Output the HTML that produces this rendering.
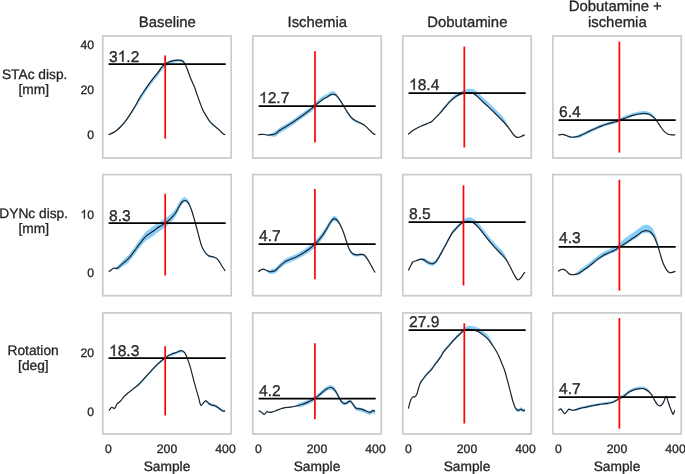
<!DOCTYPE html>
<html><head><meta charset="utf-8"><style>
html,body{margin:0;padding:0;background:#fff;width:685px;height:474px;overflow:hidden}
svg{display:block;font-family:"Liberation Sans", sans-serif;will-change:transform}
text{stroke:#262626;stroke-width:0.3px;paint-order:stroke;text-rendering:geometricPrecision}
</style></head><body>
<svg width="685" height="474" viewBox="0 0 685 474">
<rect x="102.80" y="36.00" width="128.40" height="122.00" fill="none" stroke="#cccccc" stroke-width="1.75"/>
<rect x="252.80" y="36.00" width="128.40" height="122.00" fill="none" stroke="#cccccc" stroke-width="1.75"/>
<rect x="402.80" y="36.00" width="128.40" height="122.00" fill="none" stroke="#cccccc" stroke-width="1.75"/>
<rect x="552.80" y="36.00" width="128.40" height="122.00" fill="none" stroke="#cccccc" stroke-width="1.75"/>
<rect x="102.80" y="174.60" width="128.40" height="121.10" fill="none" stroke="#cccccc" stroke-width="1.75"/>
<rect x="252.80" y="174.60" width="128.40" height="121.10" fill="none" stroke="#cccccc" stroke-width="1.75"/>
<rect x="402.80" y="174.60" width="128.40" height="121.10" fill="none" stroke="#cccccc" stroke-width="1.75"/>
<rect x="552.80" y="174.60" width="128.40" height="121.10" fill="none" stroke="#cccccc" stroke-width="1.75"/>
<rect x="102.80" y="312.90" width="128.40" height="121.10" fill="none" stroke="#cccccc" stroke-width="1.75"/>
<rect x="252.80" y="312.90" width="128.40" height="121.10" fill="none" stroke="#cccccc" stroke-width="1.75"/>
<rect x="402.80" y="312.90" width="128.40" height="121.10" fill="none" stroke="#cccccc" stroke-width="1.75"/>
<rect x="552.80" y="312.90" width="128.40" height="121.10" fill="none" stroke="#cccccc" stroke-width="1.75"/>
<path d="M108.40,134.35 L108.85,134.15 L109.47,133.89 L110.21,133.57 L111.02,133.23 L111.84,132.86 L112.61,132.49 L113.30,132.13 L114.00,131.72 L114.65,131.31 L115.27,130.88 L115.88,130.44 L116.49,129.97 L117.10,129.48 L117.63,129.03 L118.16,128.57 L118.69,128.09 L119.21,127.59 L119.74,127.08 L120.27,126.55 L120.80,126.00 L121.27,125.50 L121.75,124.98 L122.22,124.45 L122.70,123.91 L123.18,123.36 L123.65,122.79 L124.13,122.21 L124.60,121.62 L125.02,121.09 L125.43,120.54 L125.84,119.99 L126.25,119.42 L126.66,118.85 L127.07,118.27 L127.48,117.68 L127.89,117.08 L128.30,116.48 L128.71,115.86 L129.12,115.24 L129.53,114.61 L129.94,113.98 L130.35,113.33 L130.76,112.68 L131.17,112.02 L131.58,111.36 L132.00,110.69 L132.38,110.08 L132.76,109.47 L133.14,108.85 L133.52,108.23 L133.91,107.60 L134.29,106.97 L134.67,106.33 L135.05,105.68 L135.43,105.03 L135.80,104.38 L136.16,103.72 L136.52,103.05 L136.86,102.38 L137.21,101.70 L137.55,101.02 L137.90,100.33 L138.25,99.64 L138.62,98.95 L139.00,98.25 L139.40,97.55 L139.75,96.96 L140.11,96.37 L140.48,95.78 L140.86,95.18 L141.24,94.58 L141.63,93.98 L142.03,93.38 L142.42,92.78 L142.82,92.18 L143.22,91.59 L143.61,91.00 L144.00,90.41 L144.42,89.77 L144.85,89.13 L145.27,88.50 L145.70,87.86 L146.13,87.22 L146.56,86.59 L146.99,85.97 L147.42,85.35 L147.84,84.73 L148.27,84.12 L148.70,83.52 L149.13,82.92 L149.56,82.33 L149.98,81.75 L150.41,81.17 L150.84,80.60 L151.27,80.03 L151.70,79.47 L152.13,78.91 L152.55,78.36 L152.98,77.81 L153.40,77.26 L153.87,76.67 L154.34,76.09 L154.81,75.51 L155.29,74.94 L155.76,74.37 L156.22,73.81 L156.68,73.25 L157.13,72.70 L157.57,72.14 L158.00,71.59 L158.46,70.97 L158.91,70.34 L159.35,69.70 L159.78,69.07 L160.20,68.45 L160.61,67.85 L161.01,67.28 L161.41,66.74 L161.80,66.26 L162.37,65.61 L162.91,65.04 L163.43,64.53 L163.95,64.08 L164.47,63.65 L165.00,63.24 L165.63,62.78 L166.25,62.38 L166.87,62.02 L167.55,61.68 L168.30,61.34 L168.90,61.10 L169.54,60.86 L170.22,60.62 L170.91,60.40 L171.62,60.19 L172.32,60.00 L173.00,59.84 L173.80,59.68 L174.62,59.54 L175.44,59.43 L176.24,59.34 L177.00,59.28 L177.70,59.24 L178.62,59.23 L179.44,59.28 L180.19,59.39 L180.90,59.54 L181.78,59.78 L182.57,60.12 L183.30,60.64 L183.77,61.13 L184.17,61.71 L184.59,62.45 L185.10,63.46 L185.34,63.96 L185.60,64.51 L185.87,65.12 L186.15,65.76 L186.44,66.43 L186.73,67.12 L187.03,67.84 L187.32,68.57 L187.62,69.29 L187.90,70.02 L188.15,70.68 L188.40,71.36 L188.64,72.06 L188.88,72.76 L189.13,73.48 L189.37,74.20 L189.62,74.93 L189.88,75.67 L190.14,76.40 L190.42,77.13 L190.70,77.85 L190.97,78.52 L191.26,79.18 L191.56,79.85 L191.87,80.52 L192.18,81.19 L192.50,81.87 L192.82,82.54 L193.13,83.21 L193.44,83.89 L193.74,84.56 L194.03,85.24 L194.30,85.91 L194.56,86.59 L194.81,87.26 L195.06,87.94 L195.29,88.62 L195.52,89.29 L195.75,89.97 L195.97,90.65 L196.20,91.32 L196.42,92.00 L196.64,92.67 L196.87,93.34 L197.10,94.00 L197.35,94.73 L197.61,95.45 L197.86,96.17 L198.12,96.89 L198.37,97.61 L198.63,98.32 L198.88,99.02 L199.14,99.73 L199.39,100.43 L199.65,101.12 L199.90,101.80 L200.15,102.49 L200.40,103.17 L200.64,103.85 L200.88,104.52 L201.13,105.19 L201.37,105.85 L201.62,106.51 L201.88,107.16 L202.14,107.80 L202.42,108.43 L202.70,109.05 L203.03,109.72 L203.38,110.38 L203.73,111.04 L204.10,111.68 L204.47,112.32 L204.85,112.94 L205.22,113.56 L205.59,114.16 L205.95,114.75 L206.30,115.32 L206.71,116.02 L207.10,116.70 L207.48,117.36 L207.86,118.00 L208.24,118.62 L208.63,119.23 L209.05,119.84 L209.50,120.43 L209.98,121.01 L210.48,121.57 L211.00,122.12 L211.54,122.66 L212.09,123.20 L212.65,123.75 L213.22,124.30 L213.80,124.85 L214.33,125.35 L214.88,125.84 L215.44,126.32 L216.02,126.80 L216.59,127.26 L217.17,127.72 L217.73,128.18 L218.28,128.65 L218.80,129.11 L219.38,129.66 L219.95,130.25 L220.52,130.84 L221.07,131.44 L221.60,132.00 L222.10,132.52 L222.57,132.98 L223.00,133.35 L223.99,133.93 L224.77,134.14 L225.30,134.25 L225.30,135.15 L224.77,135.04 L223.99,134.83 L223.00,134.25 L222.57,133.88 L222.10,133.42 L221.60,132.90 L221.07,132.34 L220.52,131.74 L219.95,131.15 L219.38,130.56 L218.80,130.01 L218.28,129.55 L217.73,129.08 L217.17,128.62 L216.59,128.16 L216.02,127.70 L215.44,127.33 L214.88,126.96 L214.33,126.58 L213.80,126.20 L213.22,125.76 L212.65,125.33 L212.09,124.90 L211.54,124.38 L211.00,123.84 L210.48,123.29 L209.98,122.73 L209.50,122.15 L209.05,121.56 L208.63,120.95 L208.24,120.34 L207.86,119.72 L207.48,119.08 L207.10,118.42 L206.71,117.74 L206.30,117.04 L205.95,116.47 L205.59,115.88 L205.22,115.28 L204.85,114.66 L204.47,114.04 L204.10,113.40 L203.73,112.76 L203.38,112.10 L203.03,111.44 L202.70,110.77 L202.42,110.15 L202.14,109.52 L201.88,108.88 L201.62,108.23 L201.37,107.57 L201.13,106.91 L200.88,106.24 L200.64,105.57 L200.40,104.89 L200.15,104.21 L199.90,103.52 L199.65,102.84 L199.39,102.15 L199.14,101.45 L198.88,100.74 L198.63,100.04 L198.37,99.33 L198.12,98.61 L197.86,97.89 L197.61,97.17 L197.35,96.44 L197.10,95.71 L196.87,95.04 L196.64,94.37 L196.42,93.69 L196.20,93.02 L195.97,92.34 L195.75,91.66 L195.52,90.98 L195.29,90.30 L195.06,89.61 L194.81,88.93 L194.56,88.25 L194.30,87.58 L194.03,86.90 L193.74,86.22 L193.44,85.54 L193.13,84.86 L192.82,84.18 L192.50,83.50 L192.18,82.82 L191.87,82.15 L191.56,81.47 L191.26,80.80 L190.97,80.13 L190.70,79.46 L190.42,78.73 L190.14,78.00 L189.88,77.28 L189.62,76.57 L189.37,75.87 L189.13,75.17 L188.88,74.47 L188.64,73.79 L188.40,73.12 L188.15,72.47 L187.90,71.83 L187.62,71.13 L187.32,70.43 L187.03,69.74 L186.73,69.05 L186.44,68.38 L186.15,67.74 L185.87,67.13 L185.60,66.56 L185.34,66.03 L185.10,65.55 L184.59,64.59 L184.17,63.89 L183.77,63.35 L183.30,62.90 L182.57,62.43 L181.78,62.16 L180.90,61.99 L180.19,61.89 L179.44,61.85 L178.62,61.86 L177.70,61.94 L177.00,62.04 L176.24,62.16 L175.44,62.31 L174.62,62.51 L173.80,62.74 L173.00,63.00 L172.32,63.25 L171.62,63.52 L170.91,63.81 L170.22,64.12 L169.54,64.43 L168.90,64.75 L168.30,65.06 L167.55,65.49 L166.87,65.91 L166.25,66.35 L165.63,66.83 L165.00,67.36 L164.47,67.77 L163.95,68.20 L163.43,68.66 L162.91,69.17 L162.37,69.74 L161.80,70.39 L161.41,70.88 L161.01,71.42 L160.61,71.99 L160.20,72.59 L159.78,73.22 L159.35,73.85 L158.91,74.49 L158.46,75.12 L158.00,75.75 L157.57,76.30 L157.13,76.85 L156.68,77.41 L156.22,77.97 L155.76,78.54 L155.29,79.10 L154.81,79.68 L154.34,80.26 L153.87,80.85 L153.40,81.44 L152.98,81.99 L152.55,82.54 L152.13,83.09 L151.70,83.65 L151.27,84.22 L150.84,84.79 L150.41,85.36 L149.98,85.94 L149.56,86.53 L149.13,87.12 L148.70,87.72 L148.27,88.32 L147.84,88.93 L147.42,89.55 L146.99,90.17 L146.56,90.80 L146.13,91.44 L145.70,92.07 L145.27,92.71 L144.85,93.35 L144.42,93.99 L144.00,94.63 L143.61,95.22 L143.22,95.81 L142.82,96.41 L142.42,97.01 L142.03,97.61 L141.63,98.22 L141.24,98.82 L140.86,99.42 L140.48,100.02 L140.11,100.61 L139.75,101.14 L139.40,101.64 L139.00,102.23 L138.62,102.83 L138.25,103.44 L137.90,104.04 L137.55,104.63 L137.21,105.23 L136.86,105.82 L136.52,106.40 L136.16,106.98 L135.80,107.55 L135.43,108.11 L135.05,108.66 L134.67,109.21 L134.29,109.75 L133.91,110.29 L133.52,110.82 L133.14,111.34 L132.76,111.86 L132.38,112.38 L132.00,112.89 L131.58,113.54 L131.17,114.18 L130.76,114.81 L130.35,115.44 L129.94,116.06 L129.53,116.68 L129.12,117.29 L128.71,117.88 L128.30,118.47 L127.89,119.05 L127.48,119.63 L127.07,120.20 L126.66,120.76 L126.25,121.31 L125.84,121.85 L125.43,122.38 L125.02,122.90 L124.60,123.42 L124.13,123.98 L123.65,124.53 L123.18,125.07 L122.70,125.60 L122.22,126.12 L121.75,126.62 L121.27,127.11 L120.80,127.58 L120.27,128.10 L119.74,128.61 L119.21,129.09 L118.69,129.56 L118.16,130.01 L117.63,130.44 L117.10,130.86 L116.49,131.32 L115.88,131.75 L115.27,132.16 L114.65,132.56 L114.00,132.93 L113.30,133.30 L112.61,133.63 L111.84,133.96 L111.02,134.28 L110.21,134.58 L109.47,134.86 L108.85,135.09 L108.40,135.27Z" fill="#87cefa" stroke="none"/>
<path d="M258.30,134.25 L258.88,134.19 L259.73,134.09 L260.65,134.00 L261.50,133.95 L262.20,133.94 L262.86,133.94 L263.54,133.98 L264.30,134.05 L265.00,134.15 L265.75,134.30 L266.54,134.46 L267.33,134.59 L268.10,134.62 L268.84,134.40 L269.58,134.13 L270.32,133.82 L271.06,133.48 L271.80,133.12 L272.56,132.77 L273.32,132.41 L274.08,132.02 L274.84,131.55 L275.60,131.16 L276.20,130.77 L276.77,130.29 L277.34,129.75 L277.93,129.18 L278.57,128.60 L279.30,128.05 L279.84,127.69 L280.42,127.33 L281.03,126.96 L281.66,126.60 L282.31,126.23 L282.96,125.86 L283.62,125.48 L284.27,125.11 L284.90,124.73 L285.52,124.35 L286.14,123.96 L286.77,123.58 L287.39,123.19 L288.01,122.80 L288.63,122.40 L289.26,122.01 L289.88,121.61 L290.50,121.20 L291.12,120.80 L291.74,120.39 L292.37,119.98 L292.99,119.56 L293.61,119.14 L294.23,118.72 L294.86,118.30 L295.48,117.87 L296.10,117.43 L296.72,117.00 L297.34,116.55 L297.97,116.11 L298.59,115.65 L299.21,115.20 L299.83,114.75 L300.46,114.29 L301.08,113.84 L301.70,113.39 L302.33,112.94 L302.96,112.49 L303.60,112.04 L304.24,111.58 L304.87,111.13 L305.50,110.69 L306.12,110.25 L306.72,109.81 L307.30,109.39 L307.94,108.93 L308.58,108.47 L309.21,108.02 L309.82,107.58 L310.42,107.14 L310.98,106.71 L311.51,106.29 L312.00,105.87 L312.55,105.32 L313.00,104.79 L313.39,104.26 L313.79,103.75 L314.24,103.18 L314.80,102.56 L315.31,102.07 L315.89,101.57 L316.50,101.06 L317.14,100.54 L317.79,100.03 L318.43,99.60 L319.04,99.21 L319.60,98.83 L320.27,98.31 L320.88,97.79 L321.46,97.28 L322.03,96.77 L322.64,96.28 L323.30,95.81 L323.93,95.43 L324.62,95.06 L325.33,94.70 L326.05,94.35 L326.75,94.02 L327.41,93.70 L328.00,93.38 L328.72,92.95 L329.35,92.53 L329.92,92.13 L330.46,91.79 L331.00,91.53 L331.87,91.29 L332.69,91.21 L333.50,91.27 L334.33,91.52 L335.17,92.06 L336.00,92.82 L336.49,93.40 L336.97,94.07 L337.46,94.81 L337.96,95.63 L338.50,96.52 L338.92,97.22 L339.37,97.99 L339.83,98.80 L340.30,99.55 L340.76,100.25 L341.19,100.94 L341.60,101.58 L342.01,102.25 L342.37,102.85 L342.71,103.44 L343.06,104.04 L343.44,104.71 L343.90,105.49 L344.21,106.02 L344.55,106.59 L344.90,107.20 L345.27,107.82 L345.66,108.45 L346.05,109.09 L346.44,109.73 L346.83,110.36 L347.22,110.96 L347.60,111.54 L348.02,112.17 L348.44,112.80 L348.86,113.42 L349.29,114.04 L349.71,114.64 L350.14,115.21 L350.56,115.76 L350.98,116.27 L351.40,116.74 L352.01,117.35 L352.60,117.87 L353.19,118.32 L353.80,118.73 L354.43,119.13 L355.10,119.54 L355.72,119.89 L356.37,120.22 L357.04,120.54 L357.73,120.86 L358.43,121.22 L359.12,121.62 L359.80,122.03 L360.47,122.44 L361.15,122.84 L361.82,123.23 L362.49,123.59 L363.16,123.97 L363.83,124.38 L364.50,124.85 L365.02,125.26 L365.54,125.72 L366.07,126.22 L366.60,126.73 L367.12,127.26 L367.63,127.78 L368.13,128.30 L368.62,128.79 L369.10,129.25 L369.70,129.81 L370.28,130.37 L370.86,130.91 L371.41,131.43 L371.94,131.91 L372.44,132.36 L372.90,132.75 L373.65,133.32 L374.34,133.77 L374.90,134.11 L375.30,134.35 L375.30,135.25 L374.90,135.01 L374.34,134.67 L373.65,134.22 L372.90,133.65 L372.44,133.26 L371.94,132.81 L371.41,132.33 L370.86,131.81 L370.28,131.27 L369.70,130.71 L369.10,130.15 L368.62,129.69 L368.13,129.20 L367.63,128.68 L367.12,128.16 L366.60,127.63 L366.07,127.12 L365.54,126.62 L365.02,126.16 L364.50,125.75 L363.83,125.28 L363.16,124.87 L362.49,124.49 L361.82,124.20 L361.15,124.08 L360.47,123.96 L359.80,123.83 L359.12,123.71 L358.43,123.60 L357.73,123.42 L357.04,123.10 L356.37,122.78 L355.72,122.45 L355.10,122.10 L354.43,121.69 L353.80,121.29 L353.19,120.88 L352.60,120.43 L352.01,119.91 L351.40,119.30 L350.98,118.83 L350.56,118.32 L350.14,117.77 L349.71,117.20 L349.29,116.60 L348.86,115.98 L348.44,115.36 L348.02,114.73 L347.60,114.10 L347.22,113.52 L346.83,112.92 L346.44,112.29 L346.05,111.65 L345.66,111.01 L345.27,110.38 L344.90,109.75 L344.55,109.10 L344.21,108.48 L343.90,107.92 L343.44,107.09 L343.06,106.37 L342.71,105.72 L342.37,105.10 L342.01,104.45 L341.60,103.73 L341.19,103.04 L340.76,102.31 L340.30,101.55 L339.83,100.82 L339.37,100.16 L338.92,99.55 L338.50,98.99 L337.96,98.29 L337.46,97.64 L336.97,97.06 L336.49,96.56 L336.00,96.14 L335.17,95.66 L334.33,95.41 L333.50,95.29 L332.69,95.26 L331.87,95.37 L331.00,95.65 L330.46,95.93 L329.92,96.29 L329.35,96.70 L328.72,97.15 L328.00,97.61 L327.41,97.94 L326.75,98.29 L326.05,98.65 L325.33,99.03 L324.62,99.41 L323.93,99.81 L323.30,100.21 L322.64,100.71 L322.03,101.22 L321.46,101.75 L320.88,102.29 L320.27,102.83 L319.60,103.37 L319.04,103.77 L318.43,104.18 L317.79,104.66 L317.14,105.30 L316.50,105.93 L315.89,106.55 L315.31,107.15 L314.80,107.74 L314.24,108.46 L313.79,109.07 L313.39,109.58 L313.00,110.11 L312.55,110.64 L312.00,111.19 L311.51,111.61 L310.98,112.03 L310.42,112.46 L309.82,112.90 L309.21,113.34 L308.58,113.79 L307.94,114.25 L307.30,114.71 L306.72,115.13 L306.12,115.57 L305.50,116.01 L304.87,116.45 L304.24,116.90 L303.60,117.36 L302.96,117.81 L302.33,118.26 L301.70,118.71 L301.08,119.16 L300.46,119.61 L299.83,120.07 L299.21,120.52 L298.59,120.97 L297.97,121.43 L297.34,121.87 L296.72,122.32 L296.10,122.75 L295.48,123.19 L294.86,123.62 L294.23,124.04 L293.61,124.46 L292.99,124.88 L292.37,125.30 L291.74,125.71 L291.12,126.12 L290.50,126.52 L289.88,126.93 L289.26,127.33 L288.63,127.72 L288.01,128.12 L287.39,128.51 L286.77,128.90 L286.14,129.28 L285.52,129.67 L284.90,130.05 L284.27,130.43 L283.62,130.80 L282.96,131.18 L282.31,131.55 L281.66,131.92 L281.03,132.28 L280.42,132.65 L279.84,133.01 L279.30,133.37 L278.57,133.92 L277.93,134.50 L277.34,135.07 L276.77,135.61 L276.20,136.09 L275.60,136.48 L274.84,136.77 L274.08,136.75 L273.32,136.66 L272.56,136.53 L271.80,136.41 L271.06,136.30 L270.32,136.17 L269.58,136.01 L268.84,135.82 L268.10,135.58 L267.33,135.49 L266.54,135.36 L265.75,135.20 L265.00,135.05 L264.30,134.95 L263.54,134.88 L262.86,134.84 L262.20,134.84 L261.50,134.85 L260.65,134.90 L259.73,134.99 L258.88,135.09 L258.30,135.15Z" fill="#87cefa" stroke="none"/>
<path d="M408.20,133.95 L408.57,133.62 L409.06,133.16 L409.65,132.62 L410.30,132.03 L411.00,131.42 L411.71,130.84 L412.40,130.32 L413.01,129.90 L413.65,129.50 L414.31,129.10 L414.99,128.71 L415.67,128.33 L416.36,127.96 L417.03,127.61 L417.70,127.26 L418.36,126.93 L419.03,126.62 L419.70,126.32 L420.37,126.02 L421.03,125.74 L421.67,125.47 L422.30,125.20 L422.90,124.94 L423.66,124.62 L424.37,124.31 L425.06,124.02 L425.73,123.74 L426.41,123.45 L427.10,123.14 L427.82,122.84 L428.57,122.54 L429.32,122.24 L430.05,121.93 L430.75,121.58 L431.40,121.20 L431.97,120.78 L432.48,120.34 L432.96,119.88 L433.43,119.38 L433.93,118.85 L434.50,118.27 L434.97,117.82 L435.47,117.34 L435.99,116.83 L436.52,116.20 L437.07,115.54 L437.62,114.87 L438.16,114.18 L438.70,113.49 L439.17,112.86 L439.65,112.22 L440.13,111.57 L440.61,110.91 L441.09,110.24 L441.57,109.56 L442.05,108.90 L442.53,108.32 L443.00,107.74 L443.47,107.17 L443.94,106.59 L444.41,106.01 L444.87,105.42 L445.34,104.84 L445.80,104.26 L446.27,103.69 L446.73,103.13 L447.20,102.58 L447.72,101.97 L448.25,101.36 L448.77,100.76 L449.30,100.17 L449.82,99.59 L450.35,99.03 L450.88,98.48 L451.40,97.95 L452.00,97.37 L452.60,96.81 L453.20,96.27 L453.80,95.75 L454.40,95.25 L455.00,94.78 L455.60,94.34 L456.30,93.86 L456.99,93.42 L457.68,93.02 L458.38,92.64 L459.08,92.29 L459.80,91.96 L460.53,91.66 L461.28,91.37 L462.03,91.11 L462.79,90.75 L463.55,90.41 L464.30,90.10 L465.05,89.80 L465.80,89.52 L466.54,89.27 L467.29,89.04 L468.04,88.86 L468.80,88.81 L469.56,88.79 L470.33,88.78 L471.09,88.81 L471.86,88.90 L472.63,89.06 L473.40,89.34 L473.98,89.62 L474.55,89.98 L475.13,90.39 L475.71,90.84 L476.28,91.32 L476.86,91.82 L477.43,92.31 L478.00,92.79 L478.56,93.27 L479.10,93.75 L479.64,94.24 L480.18,94.76 L480.73,95.30 L481.29,95.86 L481.88,96.43 L482.50,97.02 L483.02,97.49 L483.56,97.98 L484.12,98.48 L484.69,98.99 L485.27,99.50 L485.86,100.02 L486.45,100.55 L487.04,101.08 L487.62,101.61 L488.20,102.15 L488.72,102.64 L489.24,103.13 L489.75,103.63 L490.27,104.14 L490.79,104.65 L491.31,105.16 L491.83,105.68 L492.35,106.19 L492.86,106.71 L493.38,107.22 L493.90,107.74 L494.42,108.26 L494.94,108.77 L495.45,109.29 L495.97,109.81 L496.49,110.33 L497.01,110.85 L497.53,111.38 L498.05,111.90 L498.56,112.42 L499.08,112.95 L499.60,113.47 L500.12,114.00 L500.65,114.52 L501.19,115.05 L501.72,115.58 L502.26,116.10 L502.79,116.63 L503.32,117.34 L503.83,118.15 L504.34,118.96 L504.83,119.76 L505.30,120.55 L505.80,121.41 L506.28,122.26 L506.75,123.10 L507.21,123.93 L507.66,124.75 L508.09,125.57 L508.52,126.39 L508.95,127.20 L509.38,127.87 L509.80,128.53 L510.27,129.28 L510.73,130.04 L511.19,130.82 L511.64,131.59 L512.09,132.32 L512.53,132.95 L512.96,133.54 L513.38,134.08 L513.80,134.55 L514.52,135.26 L515.20,135.84 L515.86,136.29 L516.52,136.63 L517.20,136.85 L517.89,136.94 L518.57,136.89 L519.27,136.73 L519.97,136.51 L520.70,136.25 L521.37,135.97 L522.11,135.61 L522.87,135.21 L523.57,134.82 L524.17,134.48 L524.60,134.25 L524.60,135.15 L524.17,135.38 L523.57,135.72 L522.87,136.11 L522.11,136.51 L521.37,136.87 L520.70,137.15 L519.97,137.41 L519.27,137.63 L518.57,137.79 L517.89,137.84 L517.20,137.75 L516.52,137.53 L515.86,137.19 L515.20,136.74 L514.52,136.16 L513.80,135.45 L513.38,134.98 L512.96,134.44 L512.53,133.85 L512.09,133.22 L511.64,132.56 L511.19,131.89 L510.73,131.21 L510.27,130.55 L509.80,129.91 L509.38,129.34 L508.95,128.77 L508.52,128.21 L508.09,127.65 L507.66,127.09 L507.21,126.53 L506.75,125.96 L506.28,125.40 L505.80,124.84 L505.30,124.28 L504.83,123.77 L504.34,123.25 L503.83,122.74 L503.32,122.23 L502.79,121.71 L502.26,121.18 L501.72,120.66 L501.19,120.13 L500.65,119.60 L500.12,119.08 L499.60,118.55 L499.08,118.03 L498.56,117.50 L498.05,116.98 L497.53,116.46 L497.01,115.93 L496.49,115.41 L495.97,114.89 L495.45,114.37 L494.94,113.85 L494.42,113.34 L493.90,112.82 L493.38,112.30 L492.86,111.79 L492.35,111.27 L491.83,110.76 L491.31,110.24 L490.79,109.73 L490.27,109.22 L489.75,108.71 L489.24,108.21 L488.72,107.72 L488.20,107.23 L487.62,106.69 L487.04,106.16 L486.45,105.63 L485.86,105.10 L485.27,104.58 L484.69,104.07 L484.12,103.56 L483.56,103.06 L483.02,102.57 L482.50,102.09 L481.88,101.51 L481.29,100.94 L480.73,100.38 L480.18,99.84 L479.64,99.30 L479.10,98.78 L478.56,98.26 L478.00,97.75 L477.43,97.24 L476.86,96.71 L476.28,96.18 L475.71,95.66 L475.13,95.18 L474.55,94.73 L473.98,94.34 L473.40,94.02 L472.63,93.70 L471.86,93.49 L471.09,93.36 L470.33,93.28 L469.56,93.24 L468.80,93.22 L468.04,93.22 L467.29,93.32 L466.54,93.45 L465.80,93.62 L465.05,93.81 L464.30,94.02 L463.55,94.24 L462.79,94.48 L462.03,94.75 L461.28,94.99 L460.53,95.24 L459.80,95.53 L459.08,95.83 L458.38,96.15 L457.68,96.50 L456.99,96.88 L456.30,97.30 L455.60,97.75 L455.00,98.17 L454.40,98.62 L453.80,99.09 L453.20,99.59 L452.60,100.11 L452.00,100.65 L451.40,101.21 L450.88,101.72 L450.35,102.25 L449.82,102.79 L449.30,103.35 L448.77,103.93 L448.25,104.51 L447.72,105.10 L447.20,105.69 L446.73,106.22 L446.27,106.77 L445.80,107.32 L445.34,107.88 L444.87,108.45 L444.41,109.01 L443.94,109.58 L443.47,110.14 L443.00,110.70 L442.53,111.26 L442.05,111.82 L441.57,112.34 L441.09,112.85 L440.61,113.35 L440.13,113.85 L439.65,114.34 L439.17,114.82 L438.70,115.29 L438.16,115.80 L437.62,116.30 L437.07,116.78 L436.52,117.26 L435.99,117.73 L435.47,118.24 L434.97,118.72 L434.50,119.17 L433.93,119.75 L433.43,120.28 L432.96,120.78 L432.48,121.24 L431.97,121.68 L431.40,122.10 L430.75,122.48 L430.05,122.83 L429.32,123.14 L428.57,123.44 L427.82,123.74 L427.10,124.04 L426.41,124.35 L425.73,124.64 L425.06,124.92 L424.37,125.21 L423.66,125.52 L422.90,125.84 L422.30,126.10 L421.67,126.37 L421.03,126.64 L420.37,126.92 L419.70,127.22 L419.03,127.52 L418.36,127.83 L417.70,128.16 L417.03,128.51 L416.36,128.86 L415.67,129.23 L414.99,129.61 L414.31,130.00 L413.65,130.40 L413.01,130.80 L412.40,131.22 L411.71,131.74 L411.00,132.32 L410.30,132.93 L409.65,133.52 L409.06,134.06 L408.57,134.52 L408.20,134.85Z" fill="#87cefa" stroke="none"/>
<path d="M558.30,134.55 L558.76,134.47 L559.41,134.33 L560.17,134.18 L560.98,134.05 L561.78,133.96 L562.50,133.95 L563.27,134.06 L564.01,134.25 L564.74,134.51 L565.46,134.78 L566.20,135.05 L566.96,135.33 L567.72,135.64 L568.48,135.95 L569.24,136.24 L570.00,136.45 L570.73,136.60 L571.44,136.71 L572.15,136.75 L572.90,136.64 L573.70,136.47 L574.43,136.28 L575.20,136.05 L575.99,135.78 L576.80,135.47 L577.61,135.14 L578.40,134.84 L579.06,134.60 L579.72,134.33 L580.37,134.03 L581.03,133.72 L581.68,133.39 L582.34,133.07 L583.00,132.75 L583.67,132.44 L584.34,132.13 L585.01,131.81 L585.68,131.50 L586.35,131.18 L587.03,130.86 L587.70,130.53 L588.37,130.21 L589.04,129.89 L589.71,129.56 L590.39,129.23 L591.06,128.91 L591.73,128.59 L592.40,128.27 L593.07,127.95 L593.75,127.64 L594.42,127.33 L595.09,127.02 L595.76,126.72 L596.43,126.42 L597.10,126.13 L597.76,125.85 L598.42,125.57 L599.07,125.29 L599.73,125.02 L600.38,124.75 L601.04,124.49 L601.70,124.24 L602.37,123.99 L603.04,123.75 L603.71,123.52 L604.38,123.29 L605.05,123.06 L605.73,122.84 L606.40,122.63 L607.18,122.39 L607.97,122.15 L608.76,121.92 L609.54,121.70 L610.32,121.48 L611.10,121.26 L611.88,121.05 L612.67,120.84 L613.46,120.63 L614.23,120.43 L614.98,120.22 L615.70,120.00 L616.50,119.69 L617.25,119.35 L617.98,119.01 L618.71,118.66 L619.50,118.28 L620.19,117.95 L620.90,117.60 L621.62,117.24 L622.37,116.91 L623.12,116.61 L623.90,116.31 L624.58,116.05 L625.28,115.77 L626.00,115.49 L626.73,115.21 L627.45,114.93 L628.18,114.65 L628.90,114.39 L629.62,114.14 L630.33,113.89 L631.05,113.64 L631.76,113.40 L632.48,113.17 L633.19,112.96 L633.90,112.76 L634.60,112.57 L635.30,112.40 L636.00,112.24 L636.70,112.09 L637.40,111.96 L638.10,111.83 L638.80,111.71 L639.52,111.59 L640.25,111.47 L640.99,111.36 L641.72,111.26 L642.44,111.18 L643.14,111.12 L643.80,111.10 L644.67,111.11 L645.50,111.17 L646.29,111.27 L647.05,111.42 L647.80,111.60 L648.52,111.81 L649.20,112.06 L649.86,112.34 L650.52,112.69 L651.20,113.10 L651.78,113.50 L652.38,114.07 L652.98,114.75 L653.57,115.46 L654.14,116.20 L654.70,116.94 L655.15,117.58 L655.59,118.25 L656.02,118.92 L656.44,119.62 L656.86,120.32 L657.28,121.04 L657.70,121.77 L658.13,122.47 L658.56,123.11 L658.99,123.76 L659.41,124.42 L659.84,125.08 L660.27,125.73 L660.70,126.35 L661.12,126.95 L661.53,127.55 L661.94,128.14 L662.35,128.72 L662.78,129.28 L663.22,129.82 L663.70,130.35 L664.21,130.87 L664.75,131.39 L665.30,131.90 L665.87,132.39 L666.45,132.83 L667.03,133.23 L667.60,133.55 L668.40,133.88 L669.21,134.08 L670.02,134.20 L670.82,134.28 L671.60,134.35 L672.40,134.40 L673.24,134.41 L674.04,134.39 L674.72,134.36 L675.20,134.35 L675.20,135.25 L674.72,135.26 L674.04,135.29 L673.24,135.31 L672.40,135.30 L671.60,135.25 L670.82,135.18 L670.02,135.10 L669.21,134.98 L668.40,134.78 L667.60,134.45 L667.03,134.13 L666.45,133.73 L665.87,133.29 L665.30,132.80 L664.75,132.29 L664.21,131.77 L663.70,131.25 L663.22,130.72 L662.78,130.18 L662.35,129.62 L661.94,129.04 L661.53,128.45 L661.12,127.85 L660.70,127.25 L660.27,126.63 L659.84,125.98 L659.41,125.32 L658.99,124.66 L658.56,124.01 L658.13,123.37 L657.70,122.78 L657.28,122.22 L656.86,121.68 L656.44,121.15 L656.02,120.63 L655.59,120.14 L655.15,119.66 L654.70,119.20 L654.14,118.69 L653.57,118.21 L652.98,117.74 L652.38,117.31 L651.78,116.90 L651.20,116.50 L650.52,116.09 L649.86,115.74 L649.20,115.46 L648.52,115.21 L647.80,115.00 L647.05,114.82 L646.29,114.67 L645.50,114.57 L644.67,114.51 L643.80,114.50 L643.14,114.52 L642.44,114.58 L641.72,114.66 L640.99,114.76 L640.25,114.87 L639.52,114.99 L638.80,115.11 L638.10,115.23 L637.40,115.36 L636.70,115.49 L636.00,115.64 L635.30,115.80 L634.60,115.97 L633.90,116.16 L633.19,116.36 L632.48,116.57 L631.76,116.80 L631.05,117.04 L630.33,117.29 L629.62,117.54 L628.90,117.79 L628.18,118.05 L627.45,118.33 L626.73,118.61 L626.00,118.89 L625.28,119.17 L624.58,119.45 L623.90,119.71 L623.12,120.01 L622.37,120.31 L621.62,120.64 L620.90,120.98 L620.19,121.31 L619.50,121.63 L618.71,121.99 L617.98,122.33 L617.25,122.66 L616.50,122.98 L615.70,123.28 L614.98,123.50 L614.23,123.71 L613.46,123.91 L612.67,124.12 L611.88,124.33 L611.10,124.54 L610.32,124.76 L609.54,124.98 L608.76,125.20 L607.97,125.43 L607.18,125.67 L606.40,125.91 L605.73,126.12 L605.05,126.34 L604.38,126.57 L603.71,126.80 L603.04,127.03 L602.37,127.27 L601.70,127.52 L601.04,127.77 L600.38,128.03 L599.73,128.30 L599.07,128.57 L598.42,128.85 L597.76,129.13 L597.10,129.41 L596.43,129.70 L595.76,130.00 L595.09,130.30 L594.42,130.61 L593.75,130.92 L593.07,131.23 L592.40,131.55 L591.73,131.87 L591.06,132.19 L590.39,132.51 L589.71,132.84 L589.04,133.17 L588.37,133.49 L587.70,133.81 L587.03,134.14 L586.35,134.46 L585.68,134.78 L585.01,135.09 L584.34,135.41 L583.67,135.72 L583.00,136.03 L582.34,136.35 L581.68,136.67 L581.03,137.00 L580.37,137.31 L579.72,137.61 L579.06,137.88 L578.40,138.12 L577.61,138.26 L576.80,138.27 L575.99,138.26 L575.20,138.21 L574.43,138.13 L573.70,138.03 L572.90,137.88 L572.15,137.70 L571.44,137.61 L570.73,137.50 L570.00,137.35 L569.24,137.14 L568.48,136.85 L567.72,136.54 L566.96,136.23 L566.20,135.95 L565.46,135.68 L564.74,135.41 L564.01,135.15 L563.27,134.96 L562.50,134.85 L561.78,134.86 L560.98,134.95 L560.17,135.08 L559.41,135.23 L558.76,135.37 L558.30,135.45Z" fill="#87cefa" stroke="none"/>
<path d="M108.70,271.15 L109.13,270.86 L109.76,270.46 L110.45,269.99 L111.10,269.55 L111.66,269.09 L112.19,268.60 L112.76,268.16 L113.40,267.85 L114.18,267.71 L115.05,267.45 L115.92,267.20 L116.70,266.86 L117.49,266.28 L118.16,265.59 L119.00,264.60 L119.46,264.14 L119.95,263.60 L120.48,263.02 L121.04,262.39 L121.61,261.75 L122.20,261.10 L122.80,260.47 L123.34,259.92 L123.91,259.36 L124.50,258.80 L125.10,258.23 L125.70,257.66 L126.29,257.11 L126.86,256.60 L127.40,256.07 L127.91,255.54 L128.41,255.00 L128.89,254.45 L129.36,253.89 L129.82,253.33 L130.28,252.75 L130.74,252.17 L131.20,251.58 L131.67,250.97 L132.13,250.36 L132.59,249.73 L133.06,249.09 L133.52,248.45 L133.98,247.80 L134.44,247.15 L134.90,246.50 L135.31,245.92 L135.72,245.32 L136.13,244.72 L136.54,244.12 L136.95,243.52 L137.36,242.92 L137.77,242.32 L138.18,241.73 L138.60,241.14 L139.07,240.49 L139.55,239.83 L140.02,239.18 L140.50,238.52 L140.98,237.87 L141.45,237.23 L141.93,236.60 L142.40,235.99 L142.93,235.31 L143.44,234.64 L143.94,233.99 L144.45,233.35 L144.97,232.73 L145.52,232.13 L146.10,231.55 L146.65,231.05 L147.23,230.57 L147.83,230.10 L148.45,229.65 L149.07,229.20 L149.67,228.77 L150.25,228.36 L150.80,227.95 L151.48,227.43 L152.14,226.96 L152.77,226.55 L153.37,226.15 L153.95,225.76 L154.50,225.37 L155.10,224.91 L155.64,224.47 L156.15,224.03 L156.69,223.60 L157.30,223.16 L157.88,222.80 L158.50,222.43 L159.14,222.06 L159.80,221.69 L160.46,221.31 L161.10,220.93 L161.72,220.55 L162.34,220.17 L162.95,219.79 L163.56,219.40 L164.18,219.00 L164.80,218.59 L165.43,218.19 L166.06,217.79 L166.70,217.39 L167.34,216.97 L167.97,216.52 L168.60,216.04 L169.13,215.60 L169.66,215.14 L170.19,214.67 L170.72,214.17 L171.25,213.66 L171.77,213.12 L172.30,212.57 L172.76,212.07 L173.22,211.58 L173.68,211.07 L174.14,210.55 L174.61,210.00 L175.07,209.41 L175.53,208.78 L176.00,208.11 L176.35,207.57 L176.70,206.97 L177.06,206.34 L177.42,205.68 L177.78,205.00 L178.13,204.32 L178.49,203.67 L178.83,203.04 L179.17,202.44 L179.49,201.89 L179.80,201.41 L180.33,200.62 L180.83,199.93 L181.29,199.33 L181.74,198.82 L182.17,198.37 L182.60,197.99 L183.40,197.46 L184.14,197.22 L184.90,197.23 L185.70,197.57 L186.50,198.18 L187.30,199.04 L187.77,199.67 L188.23,200.39 L188.68,201.20 L189.14,202.11 L189.60,203.14 L189.85,203.75 L190.10,204.39 L190.35,205.05 L190.59,205.75 L190.84,206.49 L191.10,207.25 L191.36,208.05 L191.62,208.89 L191.90,209.77 L192.10,210.43 L192.31,211.12 L192.53,211.85 L192.75,212.61 L192.97,213.39 L193.20,214.18 L193.43,214.98 L193.65,215.79 L193.87,216.59 L194.09,217.38 L194.30,218.15 L194.51,218.89 L194.70,219.61 L194.92,220.42 L195.12,221.20 L195.32,221.95 L195.50,222.69 L195.68,223.42 L195.86,224.15 L196.04,224.87 L196.22,225.56 L196.41,226.28 L196.60,227.01 L196.80,227.76 L196.97,228.42 L197.15,229.09 L197.33,229.77 L197.52,230.47 L197.70,231.17 L197.89,231.87 L198.08,232.58 L198.26,233.29 L198.45,234.00 L198.64,234.70 L198.83,235.40 L199.01,236.08 L199.20,236.76 L199.40,237.49 L199.59,238.22 L199.78,238.96 L199.97,239.69 L200.15,240.42 L200.34,241.14 L200.54,241.85 L200.73,242.55 L200.94,243.24 L201.15,243.90 L201.37,244.54 L201.60,245.16 L201.92,245.95 L202.27,246.72 L202.62,247.45 L202.98,248.16 L203.36,248.84 L203.74,249.49 L204.12,250.11 L204.51,250.70 L204.90,251.26 L205.41,251.94 L205.93,252.57 L206.46,253.16 L206.99,253.70 L207.53,254.18 L208.07,254.60 L208.60,254.96 L209.34,255.31 L210.08,255.50 L210.82,255.66 L211.56,255.81 L212.30,256.03 L213.05,256.31 L213.82,256.60 L214.58,256.87 L215.32,257.17 L216.00,257.55 L216.62,257.99 L217.18,258.48 L217.72,259.03 L218.25,259.65 L218.80,260.35 L219.19,260.91 L219.57,261.53 L219.95,262.19 L220.34,262.88 L220.73,263.59 L221.15,264.32 L221.60,265.05 L221.99,265.66 L222.43,266.32 L222.90,267.03 L223.39,267.74 L223.86,268.44 L224.31,269.09 L224.71,269.68 L225.05,270.18 L225.30,270.55 L225.30,271.45 L225.05,271.08 L224.71,270.58 L224.31,269.99 L223.86,269.34 L223.39,268.64 L222.90,267.93 L222.43,267.22 L221.99,266.56 L221.60,265.95 L221.15,265.22 L220.73,264.49 L220.34,263.78 L219.95,263.09 L219.57,262.43 L219.19,261.81 L218.80,261.25 L218.25,260.55 L217.72,259.93 L217.18,259.38 L216.62,258.89 L216.00,258.45 L215.32,258.07 L214.58,257.77 L213.82,257.54 L213.05,257.48 L212.30,257.42 L211.56,257.42 L210.82,257.49 L210.08,257.56 L209.34,257.39 L208.60,257.04 L208.07,256.68 L207.53,256.26 L206.99,255.78 L206.46,255.24 L205.93,254.65 L205.41,254.02 L204.90,253.34 L204.51,252.78 L204.12,252.19 L203.74,251.57 L203.36,250.92 L202.98,250.24 L202.62,249.53 L202.27,248.80 L201.92,248.03 L201.60,247.24 L201.37,246.62 L201.15,245.98 L200.94,245.32 L200.73,244.63 L200.54,243.93 L200.34,243.22 L200.15,242.50 L199.97,241.77 L199.78,241.04 L199.59,240.30 L199.40,239.57 L199.20,238.84 L199.01,238.16 L198.83,237.48 L198.64,236.78 L198.45,236.08 L198.26,235.37 L198.08,234.66 L197.89,233.95 L197.70,233.25 L197.52,232.55 L197.33,231.85 L197.15,231.17 L196.97,230.50 L196.80,229.84 L196.60,229.09 L196.41,228.36 L196.22,227.64 L196.04,226.95 L195.86,226.25 L195.68,225.55 L195.50,224.85 L195.32,224.13 L195.12,223.40 L194.92,222.65 L194.70,221.88 L194.51,221.19 L194.30,220.47 L194.09,219.73 L193.87,218.97 L193.65,218.21 L193.43,217.43 L193.20,216.66 L192.97,215.90 L192.75,215.16 L192.53,214.43 L192.31,213.73 L192.10,213.07 L191.90,212.44 L191.62,211.60 L191.36,210.80 L191.10,210.04 L190.84,209.34 L190.59,208.70 L190.35,208.09 L190.10,207.51 L189.85,206.96 L189.60,206.44 L189.14,205.58 L188.68,204.83 L188.23,204.19 L187.77,203.63 L187.30,203.17 L186.50,202.60 L185.70,202.28 L184.90,202.23 L184.14,202.49 L183.40,203.00 L182.60,203.82 L182.17,204.35 L181.74,204.95 L181.29,205.63 L180.83,206.40 L180.33,207.26 L179.80,208.24 L179.49,208.84 L179.17,209.50 L178.83,210.22 L178.49,210.98 L178.13,211.76 L177.78,212.50 L177.42,213.22 L177.06,213.92 L176.70,214.60 L176.35,215.23 L176.00,215.81 L175.53,216.54 L175.07,217.22 L174.61,217.85 L174.14,218.45 L173.68,219.03 L173.22,219.59 L172.76,220.13 L172.30,220.68 L171.77,221.29 L171.25,221.89 L170.72,222.46 L170.19,223.01 L169.66,223.54 L169.13,224.06 L168.60,224.56 L167.97,225.11 L167.34,225.63 L166.70,226.12 L166.06,226.60 L165.43,227.06 L164.80,227.52 L164.18,227.98 L163.56,228.43 L162.95,228.86 L162.34,229.29 L161.72,229.72 L161.10,230.14 L160.46,230.57 L159.80,230.99 L159.14,231.41 L158.50,231.83 L157.88,232.24 L157.30,232.65 L156.69,233.14 L156.15,233.61 L155.64,234.08 L155.10,234.56 L154.50,235.06 L153.95,235.49 L153.37,235.93 L152.77,236.37 L152.14,236.83 L151.48,237.24 L150.80,237.66 L150.25,237.99 L149.67,238.33 L149.07,238.67 L148.45,239.03 L147.83,239.40 L147.23,239.78 L146.65,240.18 L146.10,240.60 L145.52,241.10 L144.97,241.63 L144.45,242.18 L143.94,242.74 L143.44,243.32 L142.93,243.92 L142.40,244.52 L141.93,245.07 L141.45,245.63 L140.98,246.21 L140.50,246.79 L140.02,247.38 L139.55,247.99 L139.07,248.61 L138.60,249.22 L138.18,249.77 L137.77,250.33 L137.36,250.89 L136.95,251.46 L136.54,252.03 L136.13,252.59 L135.72,253.16 L135.31,253.71 L134.90,254.26 L134.44,254.88 L133.98,255.49 L133.52,256.09 L133.06,256.70 L132.59,257.29 L132.13,257.88 L131.67,258.46 L131.20,259.02 L130.74,259.58 L130.28,260.12 L129.82,260.65 L129.36,261.18 L128.89,261.70 L128.41,262.20 L127.91,262.70 L127.40,263.19 L126.86,263.67 L126.29,264.14 L125.70,264.55 L125.10,264.92 L124.50,265.29 L123.91,265.65 L123.34,266.01 L122.80,266.37 L122.20,266.80 L121.61,267.24 L121.04,267.69 L120.48,268.12 L119.95,268.53 L119.46,268.89 L119.00,269.20 L118.16,269.56 L117.49,269.75 L116.70,269.74 L115.92,269.51 L115.05,269.11 L114.18,268.72 L113.40,268.75 L112.76,269.06 L112.19,269.50 L111.66,269.99 L111.10,270.45 L110.45,270.89 L109.76,271.36 L109.13,271.76 L108.70,272.05Z" fill="#87cefa" stroke="none"/>
<path d="M258.30,271.25 L258.70,270.95 L259.27,270.51 L259.94,270.04 L260.60,269.65 L261.26,269.33 L261.97,269.03 L262.69,268.82 L263.40,268.75 L264.10,268.88 L264.80,269.16 L265.50,269.51 L266.20,269.79 L266.88,269.92 L267.54,270.11 L268.23,270.24 L269.00,270.21 L269.71,270.02 L270.50,269.73 L271.30,269.36 L272.09,269.00 L272.80,268.85 L273.55,268.68 L274.21,268.49 L274.86,268.20 L275.60,267.71 L276.08,267.32 L276.59,266.83 L277.12,266.29 L277.67,265.71 L278.22,265.12 L278.76,264.55 L279.30,264.02 L279.83,263.52 L280.35,263.03 L280.88,262.55 L281.41,262.07 L281.94,261.60 L282.47,261.15 L283.00,260.72 L283.61,260.23 L284.19,259.77 L284.78,259.33 L285.40,258.90 L286.06,258.48 L286.80,258.06 L287.41,257.76 L288.07,257.46 L288.77,257.18 L289.49,256.89 L290.22,256.61 L290.96,256.32 L291.69,256.03 L292.40,255.72 L293.10,255.41 L293.80,255.10 L294.50,254.78 L295.20,254.46 L295.90,254.13 L296.60,253.79 L297.30,253.44 L298.00,253.08 L298.62,252.74 L299.24,252.40 L299.87,252.05 L300.49,251.68 L301.11,251.31 L301.73,250.92 L302.36,250.53 L302.98,250.13 L303.60,249.72 L304.23,249.31 L304.86,248.88 L305.49,248.45 L306.12,248.01 L306.75,247.56 L307.38,247.11 L308.00,246.66 L308.60,246.20 L309.20,245.74 L309.79,245.27 L310.37,244.80 L310.94,244.33 L311.51,243.85 L312.07,243.37 L312.62,242.89 L313.16,242.41 L313.69,241.92 L314.20,241.44 L314.76,240.90 L315.30,240.36 L315.82,239.82 L316.33,239.28 L316.82,238.74 L317.32,238.18 L317.81,237.62 L318.30,237.07 L318.79,236.53 L319.27,235.99 L319.75,235.44 L320.22,234.88 L320.69,234.31 L321.16,233.72 L321.63,233.12 L322.10,232.50 L322.52,231.92 L322.94,231.34 L323.37,230.74 L323.79,230.12 L324.21,229.50 L324.63,228.86 L325.06,228.22 L325.48,227.56 L325.90,226.90 L326.28,226.28 L326.67,225.63 L327.06,224.96 L327.45,224.27 L327.84,223.59 L328.22,222.91 L328.60,222.25 L328.98,221.62 L329.34,221.02 L329.70,220.47 L330.20,219.74 L330.70,219.05 L331.18,218.40 L331.65,217.81 L332.10,217.28 L332.52,216.84 L332.90,216.48 L333.89,215.94 L334.80,216.11 L335.37,216.30 L335.97,216.59 L336.61,217.06 L337.30,217.85 L337.67,218.40 L338.05,219.03 L338.45,219.72 L338.86,220.46 L339.27,221.26 L339.68,222.10 L340.10,222.97 L340.50,223.87 L340.79,224.54 L341.08,225.24 L341.38,225.96 L341.67,226.70 L341.96,227.47 L342.25,228.19 L342.54,228.91 L342.83,229.66 L343.12,230.41 L343.41,231.18 L343.70,231.97 L343.93,232.60 L344.15,233.27 L344.38,233.95 L344.61,234.65 L344.84,235.37 L345.06,236.09 L345.29,236.82 L345.51,237.54 L345.73,238.26 L345.95,238.97 L346.17,239.66 L346.38,240.33 L346.59,240.98 L346.80,241.59 L347.08,242.42 L347.34,243.22 L347.60,244.00 L347.85,244.76 L348.10,245.48 L348.35,246.18 L348.60,246.84 L348.86,247.47 L349.12,248.07 L349.40,248.64 L349.81,249.39 L350.23,250.08 L350.66,250.71 L351.10,251.27 L351.55,251.78 L352.02,252.24 L352.50,252.64 L353.20,253.10 L353.94,253.44 L354.70,253.68 L355.48,253.84 L356.30,253.94 L357.03,253.95 L357.80,253.87 L358.59,253.74 L359.38,253.60 L360.12,253.49 L360.80,253.44 L361.69,253.44 L362.47,253.48 L363.19,253.62 L363.90,253.94 L364.43,254.31 L364.92,254.76 L365.40,255.32 L365.91,256.00 L366.50,256.89 L366.83,257.42 L367.18,258.00 L367.55,258.62 L367.93,259.28 L368.33,259.98 L368.72,260.69 L369.12,261.42 L369.52,262.15 L369.91,262.87 L370.30,263.55 L370.66,264.18 L371.03,264.86 L371.41,265.56 L371.79,266.28 L372.17,267.01 L372.55,267.71 L372.91,268.39 L373.25,269.03 L373.57,269.61 L373.85,270.13 L374.10,270.55 L374.94,271.64 L375.30,271.85 L375.30,272.75 L374.94,272.54 L374.10,271.45 L373.85,271.03 L373.57,270.51 L373.25,269.93 L372.91,269.29 L372.55,268.61 L372.17,267.91 L371.79,267.18 L371.41,266.46 L371.03,265.76 L370.66,265.08 L370.30,264.45 L369.91,263.80 L369.52,263.23 L369.12,262.67 L368.72,262.11 L368.33,261.56 L367.93,261.03 L367.55,260.53 L367.18,260.06 L366.83,259.63 L366.50,259.24 L365.91,258.56 L365.40,257.88 L364.92,257.32 L364.43,256.87 L363.90,256.50 L363.19,256.18 L362.47,256.04 L361.69,256.00 L360.80,256.00 L360.12,256.05 L359.38,256.16 L358.59,256.30 L357.80,256.43 L357.03,256.51 L356.30,256.50 L355.48,256.40 L354.70,256.24 L353.94,256.00 L353.20,255.66 L352.50,255.20 L352.02,254.80 L351.55,254.34 L351.10,253.83 L350.66,253.27 L350.23,252.64 L349.81,251.95 L349.40,251.20 L349.12,250.63 L348.86,250.03 L348.60,249.40 L348.35,248.74 L348.10,248.04 L347.85,247.31 L347.60,246.54 L347.34,245.74 L347.08,244.92 L346.80,244.08 L346.59,243.45 L346.38,242.80 L346.17,242.11 L345.95,241.41 L345.73,240.69 L345.51,239.95 L345.29,239.22 L345.06,238.48 L344.84,237.74 L344.61,237.01 L344.38,236.29 L344.15,235.59 L343.93,234.92 L343.70,234.27 L343.41,233.47 L343.12,232.68 L342.83,231.91 L342.54,231.15 L342.25,230.40 L341.96,229.69 L341.67,229.08 L341.38,228.49 L341.08,227.92 L340.79,227.38 L340.50,226.86 L340.10,226.18 L339.68,225.52 L339.27,224.90 L338.86,224.32 L338.45,223.79 L338.05,223.31 L337.67,222.89 L337.30,222.53 L336.61,221.96 L335.97,221.61 L335.37,221.42 L334.80,221.33 L333.89,221.31 L332.90,222.02 L332.52,222.45 L332.10,222.97 L331.65,223.57 L331.18,224.24 L330.70,224.97 L330.20,225.74 L329.70,226.53 L329.34,227.11 L328.98,227.74 L328.60,228.40 L328.22,229.09 L327.84,229.80 L327.45,230.52 L327.06,231.23 L326.67,231.93 L326.28,232.61 L325.90,233.27 L325.48,233.96 L325.06,234.65 L324.63,235.33 L324.21,236.00 L323.79,236.66 L323.37,237.31 L322.94,237.94 L322.52,238.56 L322.10,239.17 L321.63,239.83 L321.16,240.47 L320.69,241.09 L320.22,241.70 L319.75,242.30 L319.27,242.89 L318.79,243.47 L318.30,244.05 L317.81,244.61 L317.32,245.14 L316.82,245.66 L316.33,246.17 L315.82,246.68 L315.30,247.18 L314.76,247.68 L314.20,248.19 L313.69,248.63 L313.16,249.08 L312.62,249.53 L312.07,249.98 L311.51,250.42 L310.94,250.86 L310.37,251.30 L309.79,251.73 L309.20,252.15 L308.60,252.57 L308.00,252.99 L307.38,253.40 L306.75,253.81 L306.12,254.22 L305.49,254.62 L304.86,255.01 L304.23,255.39 L303.60,255.76 L302.98,256.13 L302.36,256.49 L301.73,256.84 L301.11,257.18 L300.49,257.52 L299.87,257.85 L299.24,258.18 L298.62,258.51 L298.00,258.82 L297.30,259.17 L296.60,259.50 L295.90,259.82 L295.20,260.13 L294.50,260.44 L293.80,260.74 L293.10,261.03 L292.40,261.33 L291.69,261.61 L290.96,261.89 L290.22,262.16 L289.49,262.42 L288.77,262.69 L288.07,262.96 L287.41,263.23 L286.80,263.52 L286.06,263.92 L285.40,264.33 L284.78,264.74 L284.19,265.17 L283.61,265.61 L283.00,266.08 L282.47,266.50 L281.94,266.94 L281.41,267.39 L280.88,267.85 L280.35,268.33 L279.83,268.81 L279.30,269.29 L278.76,269.81 L278.22,270.36 L277.67,270.94 L277.12,271.50 L276.59,272.03 L276.08,272.50 L275.60,272.89 L274.86,273.35 L274.21,273.63 L273.55,273.80 L272.80,273.95 L272.09,274.08 L271.30,273.96 L270.50,273.75 L269.71,273.50 L269.00,273.19 L268.23,272.68 L267.54,272.07 L266.88,271.42 L266.20,270.81 L265.50,270.41 L264.80,270.06 L264.10,269.78 L263.40,269.65 L262.69,269.72 L261.97,269.93 L261.26,270.23 L260.60,270.55 L259.94,270.94 L259.27,271.41 L258.70,271.85 L258.30,272.15Z" fill="#87cefa" stroke="none"/>
<path d="M408.40,269.95 L408.61,269.53 L408.89,268.95 L409.22,268.27 L409.59,267.52 L409.98,266.75 L410.35,266.02 L410.70,265.35 L411.07,264.62 L411.43,263.86 L411.78,263.13 L412.15,262.45 L412.55,261.84 L413.00,261.35 L413.59,260.95 L414.23,260.72 L414.91,260.58 L415.63,260.45 L416.40,260.25 L417.10,260.00 L417.86,259.69 L418.64,259.38 L419.43,259.09 L420.20,258.81 L420.90,258.47 L421.67,258.22 L422.38,258.11 L423.06,258.09 L423.72,258.15 L424.40,258.23 L425.07,258.42 L425.71,258.90 L426.37,259.42 L427.05,259.92 L427.80,260.34 L428.50,260.66 L429.26,261.00 L430.04,261.31 L430.83,261.56 L431.60,261.71 L432.30,261.74 L433.07,261.61 L433.78,261.33 L434.46,260.93 L435.12,260.39 L435.80,259.74 L436.23,259.26 L436.66,258.71 L437.08,258.10 L437.51,257.45 L437.93,256.77 L438.35,256.06 L438.78,255.35 L439.20,254.64 L439.54,254.06 L439.88,253.47 L440.22,252.86 L440.56,252.24 L440.90,251.62 L441.24,250.98 L441.58,250.34 L441.92,249.70 L442.26,249.07 L442.60,248.44 L442.94,247.81 L443.28,247.19 L443.62,246.56 L443.96,245.93 L444.30,245.30 L444.64,244.66 L444.98,244.03 L445.32,243.40 L445.66,242.77 L446.00,242.14 L446.34,241.51 L446.68,240.87 L447.02,240.23 L447.36,239.59 L447.70,238.95 L448.04,238.32 L448.38,237.69 L448.72,237.06 L449.06,236.45 L449.40,235.84 L449.78,235.17 L450.15,234.50 L450.53,233.83 L450.91,233.17 L451.28,232.52 L451.66,231.88 L452.04,231.27 L452.42,230.69 L452.80,230.14 L453.30,229.48 L453.80,228.88 L454.30,228.32 L454.80,227.79 L455.30,227.27 L455.80,226.76 L456.30,226.24 L456.87,225.62 L457.44,225.00 L458.01,224.40 L458.57,223.81 L459.13,223.26 L459.70,222.74 L460.35,222.17 L460.97,221.63 L461.60,221.15 L462.30,220.61 L463.10,219.97 L463.76,219.50 L464.50,219.04 L465.28,218.58 L466.08,218.15 L466.89,217.76 L467.67,217.43 L468.40,217.30 L469.19,217.32 L469.93,217.39 L470.65,217.52 L471.37,217.73 L472.11,218.04 L472.90,218.45 L473.39,218.75 L473.90,219.09 L474.41,219.47 L474.92,219.88 L475.45,220.32 L475.98,220.80 L476.53,221.30 L477.08,221.84 L477.63,222.40 L478.20,223.00 L478.64,223.48 L479.09,223.99 L479.55,224.53 L480.02,225.09 L480.49,225.68 L480.96,226.27 L481.44,226.88 L481.92,227.50 L482.40,228.12 L482.88,228.73 L483.35,229.34 L483.83,229.94 L484.30,230.53 L484.77,231.11 L485.24,231.70 L485.71,232.29 L486.18,232.88 L486.65,233.47 L487.12,234.06 L487.59,234.64 L488.06,235.23 L488.53,235.81 L489.00,236.38 L489.47,236.95 L489.93,237.52 L490.40,238.07 L490.90,238.66 L491.40,239.25 L491.90,239.83 L492.40,240.40 L492.90,240.97 L493.40,241.53 L493.90,242.09 L494.40,242.64 L494.90,243.19 L495.40,243.73 L495.90,244.27 L496.40,244.81 L496.91,245.34 L497.44,245.87 L497.97,246.40 L498.51,246.93 L499.05,247.45 L499.59,247.97 L500.12,248.48 L500.63,248.98 L501.13,249.46 L501.62,249.94 L502.07,250.40 L502.50,250.85 L503.09,251.52 L503.61,252.43 L504.09,253.27 L504.54,254.08 L504.98,254.87 L505.40,255.70 L505.84,256.58 L506.30,257.56 L506.65,258.32 L506.99,259.12 L507.34,259.94 L507.68,260.79 L508.03,261.64 L508.37,262.34 L508.72,263.06 L509.06,263.78 L509.41,264.50 L509.75,265.23 L510.10,265.95 L510.42,266.62 L510.74,267.30 L511.06,268.01 L511.38,268.72 L511.70,269.44 L512.02,270.15 L512.34,270.81 L512.66,271.46 L512.97,272.10 L513.28,272.71 L513.59,273.29 L513.90,273.85 L514.31,274.57 L514.72,275.30 L515.12,276.01 L515.53,276.70 L515.92,277.34 L516.31,277.92 L516.69,278.43 L517.05,278.84 L517.40,279.15 L518.34,279.42 L519.19,279.01 L520.00,278.35 L520.47,277.90 L520.92,277.35 L521.37,276.71 L521.82,276.04 L522.30,275.35 L522.76,274.72 L523.27,274.00 L523.79,273.26 L524.29,272.56 L524.70,271.97 L525.00,271.55 L525.00,272.45 L524.70,272.87 L524.29,273.46 L523.79,274.16 L523.27,274.90 L522.76,275.62 L522.30,276.25 L521.82,276.94 L521.37,277.61 L520.92,278.25 L520.47,278.80 L520.00,279.25 L519.19,279.91 L518.34,280.32 L517.40,280.05 L517.05,279.74 L516.69,279.33 L516.31,278.82 L515.92,278.24 L515.53,277.60 L515.12,276.91 L514.72,276.20 L514.31,275.47 L513.90,274.75 L513.59,274.19 L513.28,273.61 L512.97,273.00 L512.66,272.36 L512.34,271.71 L512.02,271.05 L511.70,270.40 L511.38,269.76 L511.06,269.12 L510.74,268.49 L510.42,267.87 L510.10,267.28 L509.75,266.65 L509.41,266.00 L509.06,265.36 L508.72,264.72 L508.37,264.09 L508.03,263.47 L507.68,262.85 L507.34,262.25 L506.99,261.66 L506.65,261.11 L506.30,260.58 L505.84,259.93 L505.40,259.35 L504.98,258.82 L504.54,258.32 L504.09,257.83 L503.61,257.33 L503.09,256.78 L502.50,256.16 L502.07,255.71 L501.62,255.24 L501.13,254.76 L500.63,254.27 L500.12,253.77 L499.59,253.25 L499.05,252.73 L498.51,252.20 L497.97,251.67 L497.44,251.14 L496.91,250.60 L496.40,250.06 L495.90,249.52 L495.40,248.98 L494.90,248.43 L494.40,247.87 L493.90,247.32 L493.40,246.75 L492.90,246.19 L492.40,245.61 L491.90,245.03 L491.40,244.45 L490.90,243.86 L490.40,243.26 L489.93,242.70 L489.47,242.13 L489.00,241.56 L488.53,240.98 L488.06,240.40 L487.59,239.81 L487.12,239.21 L486.65,238.62 L486.18,238.02 L485.71,237.43 L485.24,236.84 L484.77,236.25 L484.30,235.66 L483.83,235.07 L483.35,234.46 L482.88,233.84 L482.40,233.22 L481.92,232.60 L481.44,231.98 L480.96,231.37 L480.49,230.76 L480.02,230.18 L479.55,229.61 L479.09,229.06 L478.64,228.55 L478.20,228.06 L477.63,227.46 L477.08,226.89 L476.53,226.35 L475.98,225.84 L475.45,225.36 L474.92,224.91 L474.41,224.50 L473.90,224.11 L473.39,223.77 L472.90,223.46 L472.11,223.04 L471.37,222.73 L470.65,222.51 L469.93,222.37 L469.19,222.29 L468.40,222.26 L467.67,222.32 L466.89,222.50 L466.08,222.73 L465.28,223.00 L464.50,223.30 L463.76,223.62 L463.10,223.95 L462.30,224.43 L461.60,224.91 L460.97,225.40 L460.35,225.94 L459.70,226.52 L459.13,227.04 L458.57,227.60 L458.01,228.20 L457.44,228.81 L456.87,229.43 L456.30,230.06 L455.80,230.58 L455.30,231.10 L454.80,231.62 L454.30,232.16 L453.80,232.72 L453.30,233.33 L452.80,233.99 L452.42,234.54 L452.04,235.13 L451.66,235.75 L451.28,236.38 L450.91,237.03 L450.53,237.70 L450.15,238.37 L449.78,239.05 L449.40,239.72 L449.06,240.33 L448.72,240.95 L448.38,241.58 L448.04,242.21 L447.70,242.85 L447.36,243.49 L447.02,244.14 L446.68,244.78 L446.34,245.42 L446.00,246.06 L445.66,246.69 L445.32,247.32 L444.98,247.96 L444.64,248.59 L444.30,249.23 L443.96,249.86 L443.62,250.50 L443.28,251.13 L442.94,251.76 L442.60,252.39 L442.26,253.02 L441.92,253.66 L441.58,254.30 L441.24,254.94 L440.90,255.58 L440.56,256.21 L440.22,256.84 L439.88,257.45 L439.54,258.04 L439.20,258.62 L438.78,259.34 L438.35,260.06 L437.93,260.76 L437.51,261.45 L437.08,262.11 L436.66,262.72 L436.23,263.27 L435.80,263.75 L435.12,264.41 L434.46,264.95 L433.78,265.37 L433.07,265.65 L432.30,265.79 L431.60,265.77 L430.83,265.62 L430.04,265.38 L429.26,265.08 L428.50,264.75 L427.80,264.43 L427.05,264.02 L426.37,263.52 L425.71,263.02 L425.07,262.54 L424.40,261.97 L423.72,261.44 L423.06,260.95 L422.38,260.53 L421.67,260.18 L420.90,259.93 L420.20,259.82 L419.43,259.99 L418.64,260.27 L417.86,260.59 L417.10,260.90 L416.40,261.15 L415.63,261.35 L414.91,261.48 L414.23,261.62 L413.59,261.85 L413.00,262.25 L412.55,262.74 L412.15,263.35 L411.78,264.03 L411.43,264.76 L411.07,265.52 L410.70,266.25 L410.35,266.92 L409.98,267.65 L409.59,268.42 L409.22,269.17 L408.89,269.85 L408.61,270.43 L408.40,270.85Z" fill="#87cefa" stroke="none"/>
<path d="M558.30,270.95 L558.70,270.61 L559.27,270.12 L559.94,269.62 L560.60,269.25 L561.26,269.01 L561.97,268.84 L562.69,268.78 L563.40,268.85 L564.10,269.08 L564.80,269.45 L565.50,269.92 L566.20,270.45 L566.76,270.96 L567.32,271.57 L567.88,272.20 L568.44,272.79 L569.00,273.25 L569.68,273.66 L570.34,273.94 L571.03,274.13 L571.80,274.25 L572.50,274.29 L573.25,274.27 L574.04,274.19 L574.83,273.71 L575.60,273.21 L576.35,272.68 L577.09,272.13 L577.82,271.53 L578.56,270.88 L579.30,270.17 L579.91,269.53 L580.50,269.07 L581.09,268.62 L581.69,268.14 L582.33,267.65 L583.00,267.15 L583.54,266.77 L584.10,266.39 L584.69,265.99 L585.29,265.59 L585.89,265.17 L586.50,264.75 L587.11,264.32 L587.70,263.88 L588.29,263.43 L588.88,262.97 L589.46,262.49 L590.05,262.01 L590.64,261.52 L591.22,261.03 L591.81,260.54 L592.40,260.06 L592.99,259.58 L593.58,259.10 L594.17,258.61 L594.76,258.12 L595.34,257.64 L595.93,257.16 L596.52,256.70 L597.10,256.25 L597.68,255.81 L598.25,255.38 L598.83,254.96 L599.40,254.55 L599.97,254.14 L600.55,253.75 L601.12,253.37 L601.70,253.00 L602.37,252.59 L603.04,252.20 L603.71,251.82 L604.38,251.46 L605.05,251.11 L605.73,250.77 L606.40,250.43 L607.07,250.11 L607.75,249.80 L608.42,249.50 L609.09,249.20 L609.76,248.91 L610.43,248.62 L611.10,248.33 L611.77,248.03 L612.46,247.75 L613.15,247.47 L613.82,247.18 L614.48,246.89 L615.11,246.59 L615.70,246.28 L616.40,245.74 L617.00,245.15 L617.57,244.54 L618.21,243.89 L619.00,243.15 L619.52,242.71 L620.09,242.24 L620.70,241.75 L621.34,241.24 L621.99,240.71 L622.67,240.17 L623.35,239.62 L624.03,239.06 L624.70,238.49 L625.31,238.03 L625.92,237.61 L626.55,237.17 L627.18,236.73 L627.81,236.28 L628.45,235.83 L629.09,235.37 L629.73,234.92 L630.37,234.47 L631.00,234.02 L631.64,233.58 L632.28,233.13 L632.93,232.68 L633.58,232.23 L634.23,231.78 L634.87,231.34 L635.50,230.90 L636.12,230.46 L636.72,230.03 L637.30,229.61 L637.92,229.15 L638.53,228.67 L639.12,228.18 L639.70,227.71 L640.26,227.25 L640.81,226.82 L641.35,226.42 L641.88,226.07 L642.40,225.77 L643.16,225.41 L643.88,225.15 L644.58,224.96 L645.26,224.85 L645.93,224.81 L646.60,224.82 L647.40,224.91 L648.20,225.09 L648.97,225.36 L649.71,225.70 L650.40,226.12 L650.93,226.52 L651.42,226.98 L651.88,227.48 L652.33,228.11 L652.76,228.82 L653.20,229.58 L653.53,230.18 L653.85,230.82 L654.16,231.48 L654.47,232.17 L654.78,232.89 L655.08,233.64 L655.39,234.42 L655.70,235.22 L655.95,235.88 L656.20,236.56 L656.45,237.26 L656.70,237.97 L656.94,238.70 L657.19,239.66 L657.44,240.69 L657.69,241.75 L657.95,242.83 L658.20,243.94 L658.40,244.81 L658.60,245.71 L658.80,246.64 L659.00,247.59 L659.20,248.55 L659.40,249.52 L659.60,250.49 L659.80,251.47 L660.00,252.49 L660.20,253.19 L660.40,253.88 L660.60,254.55 L660.80,255.20 L661.03,255.94 L661.25,256.68 L661.47,257.40 L661.69,258.11 L661.90,258.82 L662.12,259.51 L662.34,260.19 L662.57,260.86 L662.80,261.51 L663.05,262.16 L663.30,262.80 L663.59,263.50 L663.90,264.20 L664.21,264.90 L664.53,265.58 L664.86,266.25 L665.19,266.89 L665.53,267.51 L665.86,268.08 L666.18,268.62 L666.50,269.10 L667.11,269.94 L667.68,270.65 L668.27,271.21 L668.90,271.63 L669.60,271.90 L670.29,271.96 L671.09,271.86 L671.91,271.66 L672.71,271.41 L673.43,271.17 L674.00,271.00 L674.93,270.69 L675.30,270.50 L675.30,271.75 L674.93,271.94 L674.00,272.25 L673.43,272.42 L672.71,272.66 L671.91,272.91 L671.09,273.11 L670.29,273.21 L669.60,273.15 L668.90,272.88 L668.27,272.46 L667.68,271.90 L667.11,271.19 L666.50,270.35 L666.18,269.87 L665.86,269.33 L665.53,268.76 L665.19,268.14 L664.86,267.50 L664.53,266.83 L664.21,266.15 L663.90,265.45 L663.59,264.75 L663.30,264.05 L663.05,263.41 L662.80,262.76 L662.57,262.11 L662.34,261.44 L662.12,260.76 L661.90,260.07 L661.69,259.36 L661.47,258.65 L661.25,257.93 L661.03,257.19 L660.80,256.45 L660.60,255.80 L660.40,255.13 L660.20,254.44 L660.00,253.74 L659.80,253.08 L659.60,252.42 L659.40,251.77 L659.20,251.12 L659.00,250.47 L658.80,249.85 L658.60,249.23 L658.40,248.64 L658.20,248.08 L657.95,247.38 L657.69,246.70 L657.44,246.03 L657.19,245.39 L656.94,244.76 L656.70,244.13 L656.45,243.51 L656.20,242.91 L655.95,242.32 L655.70,241.76 L655.39,241.07 L655.08,240.42 L654.78,239.79 L654.47,239.18 L654.16,238.61 L653.85,238.07 L653.53,237.56 L653.20,237.08 L652.76,236.49 L652.33,235.95 L651.88,235.44 L651.42,234.94 L650.93,234.48 L650.40,234.08 L649.71,233.66 L648.97,233.32 L648.20,233.05 L647.40,232.87 L646.60,232.78 L645.93,232.77 L645.26,232.81 L644.58,232.90 L643.88,233.06 L643.16,233.30 L642.40,233.62 L641.88,233.89 L641.35,234.22 L640.81,234.60 L640.26,235.01 L639.70,235.45 L639.12,235.90 L638.53,236.36 L637.92,236.81 L637.30,237.25 L636.72,237.65 L636.12,238.05 L635.50,238.46 L634.87,238.87 L634.23,239.29 L633.58,239.71 L632.93,240.13 L632.28,240.56 L631.64,240.98 L631.00,241.39 L630.37,241.81 L629.73,242.24 L629.09,242.66 L628.45,243.09 L627.81,243.52 L627.18,243.94 L626.55,244.36 L625.92,244.77 L625.31,245.16 L624.70,245.55 L624.03,245.99 L623.35,246.41 L622.67,246.83 L621.99,247.23 L621.34,247.63 L620.70,248.01 L620.09,248.38 L619.52,248.73 L619.00,249.07 L618.21,249.65 L617.57,250.18 L617.00,250.67 L616.40,251.14 L615.70,251.59 L615.11,251.90 L614.48,252.18 L613.82,252.46 L613.15,252.73 L612.46,253.00 L611.77,253.27 L611.10,253.55 L610.43,253.83 L609.76,254.11 L609.09,254.38 L608.42,254.66 L607.75,254.95 L607.07,255.25 L606.40,255.56 L605.73,255.88 L605.05,256.21 L604.38,256.55 L603.71,256.90 L603.04,257.26 L602.37,257.64 L601.70,258.03 L601.12,258.39 L600.55,258.76 L599.97,259.14 L599.40,259.53 L598.83,259.94 L598.25,260.35 L597.68,260.77 L597.10,261.19 L596.52,261.63 L595.93,262.08 L595.34,262.55 L594.76,263.02 L594.17,263.49 L593.58,263.97 L592.99,264.44 L592.40,264.91 L591.81,265.38 L591.22,265.86 L590.64,266.33 L590.05,266.81 L589.46,267.28 L588.88,267.74 L588.29,268.20 L587.70,268.64 L587.11,269.06 L586.50,269.48 L585.89,269.89 L585.29,270.29 L584.69,270.69 L584.10,271.07 L583.54,271.44 L583.00,271.81 L582.33,272.30 L581.69,272.78 L581.09,273.24 L580.50,273.68 L579.91,274.07 L579.30,274.34 L578.56,274.59 L577.82,274.78 L577.09,274.92 L576.35,275.02 L575.60,275.08 L574.83,275.11 L574.04,275.11 L573.25,275.17 L572.50,275.19 L571.80,275.15 L571.03,275.03 L570.34,274.84 L569.68,274.56 L569.00,274.15 L568.44,273.69 L567.88,273.10 L567.32,272.47 L566.76,271.86 L566.20,271.35 L565.50,270.82 L564.80,270.35 L564.10,269.98 L563.40,269.75 L562.69,269.68 L561.97,269.74 L561.26,269.91 L560.60,270.15 L559.94,270.52 L559.27,271.02 L558.70,271.51 L558.30,271.85Z" fill="#87cefa" stroke="none"/>
<path d="M108.90,410.05 L109.22,409.65 L109.67,409.05 L110.20,408.37 L110.76,407.70 L111.31,407.16 L111.80,406.85 L112.67,407.06 L113.49,407.78 L114.20,408.15 L114.77,407.82 L115.24,407.15 L115.70,406.35 L116.01,405.70 L116.28,404.97 L116.61,404.20 L117.10,403.45 L117.55,402.98 L118.09,402.54 L118.67,402.09 L119.29,401.63 L119.91,401.12 L120.50,400.55 L120.98,399.99 L121.44,399.38 L121.90,398.74 L122.37,398.07 L122.86,397.41 L123.36,396.76 L123.90,396.15 L124.40,395.65 L124.92,395.16 L125.45,394.69 L126.01,394.22 L126.57,393.76 L127.14,393.29 L127.72,392.83 L128.30,392.35 L128.89,391.87 L129.49,391.38 L130.11,390.89 L130.73,390.41 L131.35,389.92 L131.97,389.43 L132.59,388.94 L133.20,388.45 L133.81,387.96 L134.43,387.48 L135.05,386.98 L135.66,386.45 L136.27,385.92 L136.87,385.38 L137.44,384.84 L138.00,384.31 L138.60,383.70 L139.18,383.11 L139.73,382.52 L140.28,381.95 L140.81,381.39 L141.35,380.82 L141.90,380.24 L142.39,379.71 L142.87,379.18 L143.35,378.63 L143.83,378.08 L144.32,377.52 L144.80,376.96 L145.30,376.40 L145.80,375.84 L146.31,375.28 L146.84,374.72 L147.37,374.16 L147.90,373.59 L148.43,373.02 L148.96,372.46 L149.49,371.90 L150.00,371.34 L150.50,370.78 L151.00,370.22 L151.48,369.66 L151.97,369.10 L152.45,368.55 L152.93,368.00 L153.41,367.47 L153.90,366.94 L154.46,366.35 L155.01,365.77 L155.57,365.21 L156.13,364.65 L156.69,364.10 L157.24,363.57 L157.80,363.04 L158.36,362.52 L158.93,362.00 L159.50,361.50 L160.07,361.00 L160.63,360.52 L161.17,360.07 L161.70,359.64 L162.40,359.10 L163.06,358.62 L163.70,358.17 L164.34,357.72 L165.00,357.24 L165.56,356.81 L166.11,356.36 L166.66,355.90 L167.23,355.45 L167.80,355.03 L168.40,354.64 L169.02,354.29 L169.66,353.96 L170.32,353.65 L170.98,353.37 L171.64,353.10 L172.30,352.84 L173.08,352.57 L173.86,352.34 L174.64,352.13 L175.42,351.90 L176.20,351.64 L176.87,351.36 L177.56,351.04 L178.24,350.70 L178.91,350.38 L179.54,350.12 L180.10,349.94 L181.01,349.79 L181.75,349.85 L182.50,350.19 L183.12,350.59 L183.75,351.10 L184.38,351.77 L185.00,352.65 L185.30,353.20 L185.61,353.81 L185.91,354.47 L186.21,355.16 L186.50,355.88 L186.80,356.63 L187.10,357.39 L187.40,358.15 L187.64,358.76 L187.88,359.37 L188.11,359.98 L188.35,360.61 L188.58,361.26 L188.82,361.93 L189.06,362.62 L189.30,363.36 L189.55,364.13 L189.80,364.95 L189.99,365.58 L190.18,366.24 L190.37,366.95 L190.57,367.68 L190.77,368.43 L190.98,369.19 L191.18,369.97 L191.38,370.74 L191.58,371.51 L191.78,372.27 L191.97,373.01 L192.15,373.73 L192.33,374.41 L192.50,375.05 L192.72,375.89 L192.93,376.69 L193.12,377.44 L193.31,378.16 L193.49,378.86 L193.66,379.55 L193.84,380.23 L194.02,380.92 L194.21,381.62 L194.40,382.35 L194.58,383.02 L194.77,383.70 L194.96,384.38 L195.14,385.06 L195.34,385.74 L195.53,386.42 L195.72,387.11 L195.91,387.79 L196.11,388.48 L196.30,389.16 L196.50,389.85 L196.70,390.54 L196.90,391.24 L197.11,391.95 L197.32,392.66 L197.53,393.37 L197.73,394.07 L197.94,394.77 L198.14,395.46 L198.34,396.14 L198.52,396.80 L198.70,397.45 L198.91,398.24 L199.10,399.06 L199.29,399.88 L199.47,400.68 L199.64,401.46 L199.81,402.18 L199.98,402.83 L200.14,403.39 L200.30,403.85 L200.92,404.81 L201.60,404.65 L202.07,404.24 L202.60,403.56 L203.16,402.80 L203.70,402.15 L204.40,401.32 L205.10,400.50 L205.80,400.05 L206.48,400.20 L207.16,400.73 L207.90,401.28 L208.50,401.79 L209.12,402.37 L209.79,402.92 L210.50,403.36 L211.29,403.63 L212.15,403.78 L213.01,403.90 L213.80,404.06 L214.69,404.32 L215.50,404.60 L216.40,405.06 L216.92,405.39 L217.48,405.80 L218.06,406.24 L218.64,406.70 L219.23,407.15 L219.80,407.56 L220.49,408.04 L221.19,408.54 L221.89,409.00 L222.53,409.39 L223.10,409.66 L224.26,409.69 L225.00,409.60 L225.00,412.00 L224.26,412.37 L223.10,412.34 L222.53,412.07 L221.89,411.68 L221.19,411.22 L220.49,410.72 L219.80,410.24 L219.23,409.83 L218.64,409.38 L218.06,408.92 L217.48,408.48 L216.92,408.07 L216.40,407.74 L215.50,407.28 L214.69,407.00 L213.80,406.74 L213.01,406.58 L212.15,406.46 L211.29,406.31 L210.50,406.04 L209.79,405.60 L209.12,405.05 L208.50,404.47 L207.90,403.92 L207.16,403.03 L206.48,402.20 L205.80,401.75 L205.10,401.87 L204.40,402.38 L203.70,403.05 L203.16,403.70 L202.60,404.46 L202.07,405.14 L201.60,405.55 L200.92,405.71 L200.30,404.75 L200.14,404.29 L199.98,403.73 L199.81,403.08 L199.64,402.36 L199.47,401.58 L199.29,400.78 L199.10,399.96 L198.91,399.14 L198.70,398.35 L198.52,397.70 L198.34,397.04 L198.14,396.36 L197.94,395.67 L197.73,394.97 L197.53,394.27 L197.32,393.56 L197.11,392.85 L196.90,392.14 L196.70,391.44 L196.50,390.75 L196.30,390.06 L196.11,389.38 L195.91,388.69 L195.72,388.01 L195.53,387.32 L195.34,386.64 L195.14,385.96 L194.96,385.28 L194.77,384.60 L194.58,383.92 L194.40,383.25 L194.21,382.52 L194.02,381.82 L193.84,381.13 L193.66,380.45 L193.49,379.76 L193.31,379.06 L193.12,378.34 L192.93,377.59 L192.72,376.79 L192.50,375.95 L192.33,375.31 L192.15,374.63 L191.97,373.91 L191.78,373.17 L191.58,372.41 L191.38,371.64 L191.18,370.87 L190.98,370.09 L190.77,369.33 L190.57,368.58 L190.37,367.85 L190.18,367.14 L189.99,366.48 L189.80,365.85 L189.55,365.03 L189.30,364.26 L189.06,363.52 L188.82,362.83 L188.58,362.16 L188.35,361.51 L188.11,360.88 L187.88,360.27 L187.64,359.66 L187.40,359.05 L187.10,358.29 L186.80,357.53 L186.50,356.78 L186.21,356.06 L185.91,355.40 L185.61,354.86 L185.30,354.37 L185.00,353.95 L184.38,353.33 L183.75,352.92 L183.12,352.68 L182.50,352.54 L181.75,352.41 L181.01,352.35 L180.10,352.50 L179.54,352.68 L178.91,352.94 L178.24,353.26 L177.56,353.60 L176.87,353.92 L176.20,354.20 L175.42,354.46 L174.64,354.69 L173.86,354.90 L173.08,355.13 L172.30,355.40 L171.64,355.66 L170.98,355.93 L170.32,356.21 L169.66,356.52 L169.02,356.85 L168.40,357.20 L167.80,357.59 L167.23,358.01 L166.66,358.46 L166.11,358.92 L165.56,359.37 L165.00,359.80 L164.34,360.28 L163.70,360.73 L163.06,361.18 L162.40,361.66 L161.70,362.20 L161.17,362.63 L160.63,363.08 L160.07,363.56 L159.50,364.06 L158.93,364.56 L158.36,365.08 L157.80,365.60 L157.24,366.13 L156.69,366.66 L156.13,367.21 L155.57,367.77 L155.01,368.33 L154.46,368.91 L153.90,369.50 L153.41,370.03 L152.93,370.56 L152.45,371.11 L151.97,371.66 L151.48,372.22 L151.00,372.78 L150.50,373.34 L150.00,373.90 L149.49,374.46 L148.96,375.02 L148.43,375.58 L147.90,376.15 L147.37,376.72 L146.84,377.28 L146.31,377.84 L145.80,378.40 L145.30,378.96 L144.80,379.52 L144.32,380.08 L143.83,380.64 L143.35,381.19 L142.87,381.74 L142.39,382.27 L141.90,382.80 L141.35,383.38 L140.81,383.95 L140.28,384.51 L139.73,384.99 L139.18,385.39 L138.60,385.80 L138.00,386.20 L137.44,386.54 L136.87,386.89 L136.27,387.22 L135.66,387.56 L135.05,387.90 L134.43,388.38 L133.81,388.86 L133.20,389.35 L132.59,389.84 L131.97,390.33 L131.35,390.82 L130.73,391.31 L130.11,391.79 L129.49,392.28 L128.89,392.77 L128.30,393.25 L127.72,393.73 L127.14,394.19 L126.57,394.66 L126.01,395.12 L125.45,395.59 L124.92,396.06 L124.40,396.55 L123.90,397.05 L123.36,397.66 L122.86,398.31 L122.37,398.97 L121.90,399.64 L121.44,400.28 L120.98,400.89 L120.50,401.45 L119.91,402.02 L119.29,402.53 L118.67,402.99 L118.09,403.44 L117.55,403.88 L117.10,404.35 L116.61,405.10 L116.28,405.87 L116.01,406.60 L115.70,407.25 L115.24,408.05 L114.77,408.72 L114.20,409.05 L113.49,408.68 L112.67,407.96 L111.80,407.75 L111.31,408.06 L110.76,408.60 L110.20,409.27 L109.67,409.95 L109.22,410.55 L108.90,410.95Z" fill="#87cefa" stroke="none"/>
<path d="M258.60,410.25 L259.12,410.50 L259.88,410.86 L260.71,411.29 L261.50,411.75 L262.07,412.22 L262.65,412.81 L263.21,413.38 L263.77,413.81 L264.30,413.95 L264.81,413.69 L265.29,413.11 L265.77,412.40 L266.23,411.75 L266.70,411.35 L267.46,411.28 L268.20,411.54 L269.00,411.75 L269.64,411.81 L270.31,411.86 L271.02,411.86 L271.80,411.75 L272.48,411.57 L273.21,411.31 L273.97,411.01 L274.77,410.68 L275.60,410.35 L276.21,410.11 L276.85,409.85 L277.51,409.59 L278.18,409.31 L278.86,409.05 L279.53,408.79 L280.20,408.55 L280.86,408.32 L281.51,408.09 L282.16,407.87 L282.82,407.67 L283.49,407.47 L284.18,407.30 L284.90,407.15 L285.56,407.05 L286.24,406.98 L286.93,406.92 L287.64,406.88 L288.36,406.84 L289.08,406.80 L289.79,406.74 L290.50,406.65 L291.20,406.54 L291.90,406.43 L292.60,406.30 L293.30,406.16 L294.00,406.02 L294.70,405.87 L295.40,405.57 L296.10,405.15 L296.80,404.73 L297.50,404.30 L298.20,403.86 L298.90,403.42 L299.60,402.97 L300.30,402.63 L301.00,402.42 L301.70,402.20 L302.41,401.97 L303.12,401.72 L303.84,401.47 L304.56,401.20 L305.27,400.93 L305.96,400.65 L306.64,400.38 L307.30,400.10 L308.04,399.78 L308.76,399.44 L309.48,399.09 L310.17,398.75 L310.82,398.41 L311.44,398.09 L312.00,397.80 L312.81,397.39 L313.45,397.05 L314.07,396.69 L314.80,396.20 L315.30,395.84 L315.83,395.43 L316.39,394.99 L316.97,394.53 L317.55,394.05 L318.13,393.57 L318.70,393.10 L319.26,392.63 L319.81,392.14 L320.37,391.65 L320.93,391.15 L321.49,390.66 L322.04,390.17 L322.60,389.70 L323.16,389.23 L323.72,388.74 L324.28,388.26 L324.84,387.79 L325.39,387.35 L325.95,386.95 L326.50,386.60 L327.28,386.17 L328.07,385.80 L328.85,385.51 L329.60,385.30 L330.30,385.20 L331.09,385.22 L331.81,385.39 L332.50,385.72 L333.20,386.20 L333.68,386.62 L334.17,387.11 L334.65,387.68 L335.13,388.31 L335.62,388.98 L336.10,389.72 L336.47,390.35 L336.84,391.05 L337.21,391.78 L337.58,392.53 L337.95,393.29 L338.31,394.04 L338.66,394.77 L339.00,395.45 L339.36,396.20 L339.69,396.95 L340.01,397.68 L340.33,398.34 L340.66,398.95 L341.01,399.51 L341.40,400.00 L342.03,400.59 L342.72,401.09 L343.44,401.48 L344.14,401.76 L344.80,401.90 L345.54,401.82 L346.23,401.49 L346.91,401.07 L347.60,400.70 L348.33,400.30 L349.07,399.84 L349.81,399.51 L350.50,399.50 L351.00,399.80 L351.47,400.32 L351.93,400.98 L352.40,401.73 L352.90,402.48 L353.34,403.13 L353.77,403.86 L354.23,404.62 L354.70,405.35 L355.22,406.01 L355.80,406.54 L356.45,406.89 L357.18,407.09 L357.94,407.22 L358.72,407.32 L359.48,407.41 L360.20,407.56 L361.00,407.78 L361.76,408.00 L362.50,408.23 L363.24,408.48 L364.00,408.76 L364.66,409.03 L365.35,409.33 L366.04,409.65 L366.71,409.96 L367.34,410.24 L367.90,410.46 L368.81,410.80 L369.56,411.00 L370.30,410.96 L370.90,410.63 L371.50,410.10 L372.10,409.57 L372.70,409.26 L373.59,409.34 L374.48,409.69 L375.10,409.96 L375.10,413.84 L374.48,413.57 L373.59,413.22 L372.70,413.14 L372.10,413.45 L371.50,413.98 L370.90,414.51 L370.30,414.84 L369.56,414.88 L368.81,414.68 L367.90,414.34 L367.34,414.12 L366.71,413.84 L366.04,413.53 L365.35,413.21 L364.66,412.91 L364.00,412.64 L363.24,412.36 L362.50,412.11 L361.76,411.88 L361.00,411.66 L360.20,411.44 L359.48,411.29 L358.72,411.20 L357.94,411.10 L357.18,410.97 L356.45,410.77 L355.80,410.40 L355.22,409.80 L354.70,409.08 L354.23,408.29 L353.77,407.48 L353.34,406.69 L352.90,405.99 L352.40,405.18 L351.93,404.38 L351.47,403.72 L351.00,403.20 L350.50,402.90 L349.81,402.91 L349.07,403.24 L348.33,403.70 L347.60,404.10 L346.91,404.47 L346.23,404.89 L345.54,405.22 L344.80,405.30 L344.14,405.16 L343.44,404.88 L342.72,404.49 L342.03,403.99 L341.40,403.40 L341.01,402.91 L340.66,402.35 L340.33,401.74 L340.01,401.08 L339.69,400.44 L339.36,399.79 L339.00,399.15 L338.66,398.57 L338.31,397.95 L337.95,397.31 L337.58,396.66 L337.21,396.01 L336.84,395.39 L336.47,394.81 L336.10,394.28 L335.62,393.58 L335.13,392.91 L334.65,392.28 L334.17,391.71 L333.68,391.22 L333.20,390.80 L332.50,390.32 L331.81,389.99 L331.09,389.82 L330.30,389.80 L329.60,389.90 L328.85,390.11 L328.07,390.40 L327.28,390.77 L326.50,391.20 L325.95,391.55 L325.39,391.95 L324.84,392.39 L324.28,392.86 L323.72,393.34 L323.16,393.83 L322.60,394.30 L322.04,394.77 L321.49,395.26 L320.93,395.75 L320.37,396.25 L319.81,396.74 L319.26,397.23 L318.70,397.70 L318.13,398.17 L317.55,398.65 L316.97,399.13 L316.39,399.59 L315.83,400.03 L315.30,400.44 L314.80,400.80 L314.07,401.29 L313.45,401.65 L312.81,401.99 L312.00,402.40 L311.44,402.69 L310.82,403.01 L310.17,403.35 L309.48,403.69 L308.76,404.04 L308.04,404.38 L307.30,404.70 L306.64,404.98 L305.96,405.25 L305.27,405.53 L304.56,405.80 L303.84,406.07 L303.12,406.32 L302.41,406.57 L301.70,406.80 L301.00,407.02 L300.30,407.23 L299.60,407.28 L298.90,407.20 L298.20,407.12 L297.50,407.04 L296.80,406.95 L296.10,406.85 L295.40,406.75 L294.70,406.77 L294.00,406.92 L293.30,407.06 L292.60,407.20 L291.90,407.33 L291.20,407.44 L290.50,407.55 L289.79,407.64 L289.08,407.70 L288.36,407.74 L287.64,407.78 L286.93,407.82 L286.24,407.88 L285.56,407.95 L284.90,408.05 L284.18,408.20 L283.49,408.37 L282.82,408.57 L282.16,408.77 L281.51,408.99 L280.86,409.22 L280.20,409.45 L279.53,409.69 L278.86,409.95 L278.18,410.21 L277.51,410.49 L276.85,410.75 L276.21,411.01 L275.60,411.25 L274.77,411.58 L273.97,411.91 L273.21,412.21 L272.48,412.47 L271.80,412.65 L271.02,412.76 L270.31,412.76 L269.64,412.71 L269.00,412.65 L268.20,412.44 L267.46,412.18 L266.70,412.25 L266.23,412.65 L265.77,413.30 L265.29,414.01 L264.81,414.59 L264.30,414.85 L263.77,414.71 L263.21,414.28 L262.65,413.71 L262.07,413.12 L261.50,412.65 L260.71,412.19 L259.88,411.76 L259.12,411.40 L258.60,411.15Z" fill="#87cefa" stroke="none"/>
<path d="M408.40,408.25 L408.50,407.77 L408.64,407.11 L408.81,406.32 L409.00,405.47 L409.20,404.63 L409.40,403.85 L409.60,403.11 L409.81,402.36 L410.04,401.62 L410.27,400.89 L410.53,400.20 L410.80,399.55 L411.16,398.80 L411.56,398.07 L411.98,397.41 L412.40,396.85 L412.80,396.45 L413.75,396.40 L414.70,396.24 L415.21,395.73 L415.73,395.06 L416.24,394.26 L416.70,393.31 L416.93,392.68 L417.14,391.98 L417.34,391.23 L417.52,390.45 L417.71,389.64 L417.90,388.84 L418.10,388.10 L418.31,387.38 L418.52,386.64 L418.74,385.89 L418.96,385.15 L419.18,384.44 L419.39,383.77 L419.60,383.17 L419.93,382.29 L420.24,381.57 L420.58,380.90 L421.00,380.18 L421.41,379.55 L421.88,378.92 L422.38,378.27 L422.90,377.61 L423.40,376.95 L423.80,376.38 L424.19,375.80 L424.59,375.22 L425.00,374.63 L425.43,374.04 L425.90,373.45 L426.42,372.87 L426.99,372.27 L427.58,371.68 L428.17,371.09 L428.75,370.50 L429.30,369.92 L429.82,369.35 L430.32,368.79 L430.81,368.23 L431.29,367.68 L431.75,367.12 L432.20,366.55 L432.62,365.98 L433.01,365.40 L433.39,364.83 L433.77,364.24 L434.17,363.64 L434.60,363.02 L435.01,362.48 L435.43,361.92 L435.88,361.35 L436.33,360.78 L436.79,360.20 L437.25,359.61 L437.70,359.01 L438.14,358.40 L438.59,357.79 L439.03,357.17 L439.48,356.54 L439.92,355.90 L440.36,355.25 L440.80,354.58 L441.17,353.99 L441.51,353.39 L441.84,352.78 L442.18,352.16 L442.53,351.52 L442.90,350.88 L443.33,350.23 L443.80,349.56 L444.18,349.07 L444.60,348.56 L445.04,348.05 L445.50,347.53 L445.98,347.00 L446.46,346.47 L446.96,345.94 L447.45,345.40 L447.94,344.87 L448.43,344.34 L448.90,343.81 L449.36,343.28 L449.83,342.75 L450.29,342.21 L450.75,341.67 L451.21,341.13 L451.68,340.60 L452.14,340.06 L452.60,339.54 L453.07,339.01 L453.53,338.50 L454.00,338.00 L454.52,337.46 L455.04,336.92 L455.56,336.39 L456.08,335.87 L456.60,335.36 L457.12,334.85 L457.64,334.35 L458.16,333.86 L458.68,333.37 L459.20,332.89 L459.78,332.34 L460.36,331.78 L460.94,331.21 L461.53,330.65 L462.11,330.08 L462.68,329.43 L463.24,328.83 L463.78,328.29 L464.30,327.83 L465.19,327.20 L466.04,326.76 L466.84,326.47 L467.63,326.25 L468.40,326.04 L469.12,325.86 L469.78,325.74 L470.45,325.77 L471.17,325.90 L472.00,326.06 L472.59,326.17 L473.23,326.28 L473.90,326.40 L474.60,326.54 L475.32,326.71 L476.05,326.91 L476.78,327.16 L477.50,327.46 L478.08,327.75 L478.68,328.07 L479.29,328.43 L479.91,328.82 L480.52,329.22 L481.14,329.65 L481.75,330.08 L482.35,330.52 L482.93,330.96 L483.50,331.40 L484.11,331.88 L484.72,332.38 L485.31,332.88 L485.90,333.39 L486.47,333.92 L487.03,334.45 L487.57,334.99 L488.10,335.54 L488.60,336.10 L489.08,336.67 L489.53,337.25 L489.96,337.84 L490.38,338.65 L490.78,339.48 L491.18,340.31 L491.58,341.15 L491.98,341.99 L492.40,342.84 L492.83,343.70 L493.26,344.57 L493.70,345.45 L494.13,346.32 L494.57,347.21 L494.99,348.09 L495.41,348.96 L495.81,349.83 L496.20,350.57 L496.57,351.23 L496.93,351.88 L497.28,352.53 L497.62,353.19 L497.94,353.84 L498.27,354.50 L498.58,355.17 L498.89,355.83 L499.20,356.50 L499.50,357.17 L499.79,357.84 L500.07,358.52 L500.34,359.19 L500.61,359.87 L500.88,360.56 L501.15,361.25 L501.42,361.94 L501.70,362.64 L501.99,363.34 L502.28,364.04 L502.58,364.75 L502.88,365.47 L503.17,366.18 L503.47,366.91 L503.75,367.64 L504.03,368.37 L504.30,369.12 L504.53,369.80 L504.75,370.48 L504.97,371.16 L505.18,371.85 L505.38,372.55 L505.58,373.25 L505.79,373.96 L505.99,374.68 L506.19,375.40 L506.40,376.13 L506.59,376.80 L506.78,377.48 L506.97,378.17 L507.16,378.86 L507.35,379.55 L507.55,380.26 L507.74,380.96 L507.93,381.67 L508.12,382.39 L508.31,383.11 L508.50,383.83 L508.67,384.50 L508.85,385.17 L509.02,385.85 L509.20,386.53 L509.37,387.22 L509.54,387.91 L509.72,388.60 L509.89,389.29 L510.07,389.99 L510.24,390.69 L510.42,391.38 L510.60,392.08 L510.78,392.78 L510.96,393.50 L511.14,394.22 L511.31,394.95 L511.49,395.68 L511.68,396.41 L511.86,397.13 L512.04,397.84 L512.23,398.55 L512.41,399.23 L512.61,399.90 L512.80,400.55 L513.04,401.32 L513.29,402.09 L513.54,402.85 L513.80,403.60 L514.06,404.30 L514.31,404.90 L514.57,405.45 L514.82,405.96 L515.06,406.41 L515.30,406.81 L515.86,407.57 L516.40,408.04 L516.91,408.30 L517.40,408.60 L518.27,408.73 L519.10,408.40 L519.95,407.76 L520.80,407.30 L521.38,407.59 L521.96,408.14 L522.50,408.60 L523.18,408.93 L523.80,409.00 L524.48,408.62 L525.00,408.40 L525.00,411.40 L524.48,412.02 L523.80,412.40 L523.18,412.33 L522.50,412.00 L521.96,411.54 L521.38,410.99 L520.80,410.70 L519.95,411.16 L519.10,411.80 L518.27,412.12 L517.40,412.00 L516.91,411.63 L516.40,410.94 L515.86,410.01 L515.30,408.79 L515.06,408.19 L514.82,407.53 L514.57,406.81 L514.31,406.04 L514.06,405.24 L513.80,404.50 L513.54,403.75 L513.29,402.99 L513.04,402.22 L512.80,401.45 L512.61,400.80 L512.41,400.13 L512.23,399.45 L512.04,398.74 L511.86,398.03 L511.68,397.31 L511.49,396.58 L511.31,395.85 L511.14,395.12 L510.96,394.40 L510.78,393.68 L510.60,392.98 L510.42,392.28 L510.24,391.59 L510.07,390.89 L509.89,390.19 L509.72,389.50 L509.54,388.81 L509.37,388.12 L509.20,387.43 L509.02,386.75 L508.85,386.07 L508.67,385.40 L508.50,384.73 L508.31,384.01 L508.12,383.29 L507.93,382.57 L507.74,381.86 L507.55,381.16 L507.35,380.45 L507.16,379.76 L506.97,379.07 L506.78,378.38 L506.59,377.70 L506.40,377.03 L506.19,376.30 L505.99,375.58 L505.79,374.86 L505.58,374.15 L505.38,373.45 L505.18,372.75 L504.97,372.06 L504.75,371.38 L504.53,370.70 L504.30,370.02 L504.03,369.27 L503.75,368.54 L503.47,367.81 L503.17,367.08 L502.88,366.37 L502.58,365.65 L502.28,364.94 L501.99,364.24 L501.70,363.54 L501.42,362.84 L501.15,362.15 L500.88,361.46 L500.61,360.77 L500.34,360.09 L500.07,359.42 L499.79,358.74 L499.50,358.07 L499.20,357.40 L498.89,356.73 L498.58,356.07 L498.27,355.40 L497.94,354.74 L497.62,354.09 L497.28,353.43 L496.93,352.78 L496.57,352.13 L496.20,351.47 L495.81,350.84 L495.41,350.21 L494.99,349.59 L494.57,348.97 L494.13,348.36 L493.70,347.75 L493.26,347.15 L492.83,346.55 L492.40,345.95 L491.98,345.36 L491.58,344.77 L491.18,344.18 L490.78,343.59 L490.38,343.01 L489.96,342.44 L489.53,341.85 L489.08,341.27 L488.60,340.70 L488.10,340.14 L487.57,339.59 L487.03,339.05 L486.47,338.52 L485.90,337.99 L485.31,337.48 L484.72,336.98 L484.11,336.48 L483.50,336.00 L482.93,335.56 L482.35,335.12 L481.75,334.68 L481.14,334.25 L480.52,333.82 L479.91,333.42 L479.29,333.03 L478.68,332.67 L478.08,332.35 L477.50,332.06 L476.78,331.76 L476.05,331.51 L475.32,331.31 L474.60,331.14 L473.90,331.00 L473.23,330.88 L472.59,330.77 L472.00,330.66 L471.17,330.50 L470.45,330.37 L469.78,330.29 L469.12,330.27 L468.40,330.31 L467.63,330.35 L466.84,330.41 L466.04,330.53 L465.19,330.79 L464.30,331.23 L463.78,331.58 L463.24,332.01 L462.68,332.49 L462.11,333.02 L461.53,333.57 L460.94,334.14 L460.36,334.71 L459.78,335.29 L459.20,335.84 L458.68,336.33 L458.16,336.82 L457.64,337.32 L457.12,337.83 L456.60,338.34 L456.08,338.86 L455.56,339.38 L455.04,339.92 L454.52,340.46 L454.00,341.01 L453.53,341.51 L453.07,342.03 L452.60,342.56 L452.14,343.09 L451.68,343.63 L451.21,344.17 L450.75,344.72 L450.29,345.26 L449.83,345.80 L449.36,346.34 L448.90,346.88 L448.43,347.41 L447.94,347.94 L447.45,348.48 L446.96,349.02 L446.46,349.56 L445.98,350.10 L445.50,350.63 L445.04,351.15 L444.60,351.67 L444.18,352.18 L443.80,352.68 L443.33,353.35 L442.90,354.01 L442.53,354.66 L442.18,355.29 L441.84,355.92 L441.51,356.53 L441.17,357.13 L440.80,357.73 L440.36,358.40 L439.92,359.05 L439.48,359.67 L439.03,360.27 L438.59,360.87 L438.14,361.45 L437.70,362.03 L437.25,362.60 L436.79,363.16 L436.33,363.72 L435.88,364.27 L435.43,364.83 L435.01,365.38 L434.60,365.92 L434.17,366.53 L433.77,367.12 L433.39,367.70 L433.01,368.26 L432.62,368.83 L432.20,369.39 L431.75,369.95 L431.29,370.50 L430.81,371.05 L430.32,371.59 L429.82,372.14 L429.30,372.70 L428.75,373.27 L428.17,373.85 L427.58,374.43 L426.99,375.01 L426.42,375.59 L425.90,376.17 L425.43,376.75 L425.00,377.33 L424.59,377.91 L424.19,378.49 L423.80,379.06 L423.40,379.62 L422.90,380.27 L422.38,380.92 L421.88,381.55 L421.41,382.18 L421.00,382.80 L420.58,383.51 L420.24,384.17 L419.93,384.89 L419.60,385.76 L419.39,386.36 L419.18,387.02 L418.96,387.73 L418.74,388.47 L418.52,389.21 L418.31,389.95 L418.10,390.66 L417.90,391.36 L417.71,392.08 L417.52,392.81 L417.34,393.51 L417.14,394.18 L416.93,394.79 L416.70,395.32 L416.24,396.08 L415.73,396.67 L415.21,397.11 L414.70,397.41 L413.75,397.30 L412.80,397.35 L412.40,397.75 L411.98,398.31 L411.56,398.97 L411.16,399.70 L410.80,400.45 L410.53,401.10 L410.27,401.79 L410.04,402.52 L409.81,403.26 L409.60,404.01 L409.40,404.75 L409.20,405.53 L409.00,406.37 L408.81,407.22 L408.64,408.01 L408.50,408.67 L408.40,409.15Z" fill="#87cefa" stroke="none"/>
<path d="M558.40,410.15 L558.84,409.75 L559.48,409.15 L560.18,408.63 L560.80,408.45 L561.31,408.76 L561.78,409.39 L562.24,410.15 L562.70,410.85 L563.17,411.55 L563.64,412.32 L564.12,412.95 L564.60,413.25 L565.24,412.96 L565.90,412.20 L566.60,411.35 L567.05,410.80 L567.53,410.15 L568.02,409.50 L568.51,408.97 L569.00,408.65 L569.78,408.75 L570.56,409.25 L571.40,409.65 L572.05,409.75 L572.70,409.80 L573.43,409.77 L574.30,409.58 L574.89,409.31 L575.53,408.97 L576.22,408.58 L576.94,408.17 L577.67,407.75 L578.40,407.44 L579.10,407.24 L579.79,407.06 L580.47,406.88 L581.16,406.70 L581.84,406.53 L582.53,406.36 L583.21,406.20 L583.90,406.04 L584.59,405.89 L585.27,405.74 L585.96,405.60 L586.64,405.46 L587.33,405.32 L588.01,405.18 L588.70,405.04 L589.38,404.90 L590.07,404.75 L590.75,404.61 L591.44,404.46 L592.12,404.32 L592.81,404.18 L593.50,404.04 L594.20,403.90 L594.90,403.77 L595.60,403.64 L596.30,403.51 L597.00,403.38 L597.70,403.26 L598.40,403.14 L599.21,403.01 L600.01,402.89 L600.81,402.77 L601.60,402.66 L602.40,402.55 L603.20,402.44 L604.00,402.34 L604.80,402.25 L605.60,402.17 L606.40,402.07 L607.20,401.97 L608.00,401.84 L608.69,401.72 L609.40,401.59 L610.10,401.45 L610.81,401.30 L611.49,401.13 L612.16,400.95 L612.80,400.74 L613.52,400.45 L614.22,400.13 L614.89,399.77 L615.54,399.41 L616.14,399.04 L616.70,398.63 L617.38,398.12 L617.92,397.66 L618.47,397.20 L619.20,396.66 L619.72,396.31 L620.30,396.00 L620.93,395.73 L621.58,395.43 L622.25,395.11 L622.93,394.75 L623.60,394.34 L624.19,393.92 L624.79,393.45 L625.41,392.94 L626.02,392.40 L626.65,391.87 L627.27,391.35 L627.89,390.87 L628.50,390.44 L629.19,390.01 L629.88,389.61 L630.56,389.24 L631.25,388.91 L631.93,388.59 L632.62,388.31 L633.30,388.04 L633.99,387.80 L634.69,387.59 L635.38,387.40 L636.08,387.24 L636.77,387.09 L637.44,386.96 L638.10,386.84 L638.86,386.71 L639.60,386.59 L640.34,386.50 L641.05,386.43 L641.74,386.41 L642.40,386.44 L643.14,386.54 L643.82,386.71 L644.48,386.93 L645.13,387.21 L645.80,387.54 L646.49,387.92 L647.18,388.36 L647.88,388.85 L648.55,389.60 L649.20,390.43 L649.72,391.13 L650.22,391.85 L650.71,392.59 L651.19,393.36 L651.65,394.16 L652.10,394.95 L652.46,395.57 L652.81,396.23 L653.14,396.93 L653.46,397.65 L653.79,398.37 L654.14,399.07 L654.50,399.75 L654.89,400.43 L655.30,401.13 L655.71,401.83 L656.14,402.51 L656.56,403.14 L656.99,403.69 L657.40,404.15 L658.10,404.77 L658.80,405.19 L659.50,405.40 L660.20,405.35 L660.79,405.09 L661.40,404.65 L662.00,404.07 L662.58,403.39 L663.10,402.65 L663.44,402.05 L663.75,401.35 L664.05,400.59 L664.33,399.81 L664.60,399.07 L664.85,398.40 L665.10,397.85 L665.61,396.75 L666.05,395.98 L666.50,395.95 L666.71,396.28 L666.91,396.80 L667.11,397.49 L667.32,398.27 L667.54,399.11 L667.76,399.95 L668.00,400.75 L668.22,401.43 L668.45,402.15 L668.68,402.90 L668.92,403.65 L669.17,404.40 L669.42,405.15 L669.66,405.87 L669.90,406.55 L670.18,407.31 L670.46,408.06 L670.74,408.80 L671.02,409.51 L671.29,410.18 L671.55,410.80 L671.80,411.35 L672.30,412.56 L672.74,413.51 L673.20,413.75 L673.52,413.31 L673.86,412.46 L674.20,411.43 L674.49,410.48 L674.70,409.85 L674.70,410.75 L674.49,411.38 L674.20,412.33 L673.86,413.36 L673.52,414.21 L673.20,414.65 L672.74,414.41 L672.30,413.46 L671.80,412.25 L671.55,411.70 L671.29,411.08 L671.02,410.41 L670.74,409.70 L670.46,408.96 L670.18,408.21 L669.90,407.45 L669.66,406.77 L669.42,406.05 L669.17,405.30 L668.92,404.55 L668.68,403.80 L668.45,403.05 L668.22,402.33 L668.00,401.65 L667.76,400.85 L667.54,400.01 L667.32,399.17 L667.11,398.39 L666.91,397.70 L666.71,397.18 L666.50,396.85 L666.05,396.88 L665.61,397.65 L665.10,398.75 L664.85,399.30 L664.60,399.97 L664.33,400.71 L664.05,401.49 L663.75,402.25 L663.44,402.95 L663.10,403.55 L662.58,404.29 L662.00,404.97 L661.40,405.55 L660.79,405.99 L660.20,406.25 L659.50,406.30 L658.80,406.09 L658.10,405.67 L657.40,405.05 L656.99,404.59 L656.56,404.04 L656.14,403.41 L655.71,402.73 L655.30,402.03 L654.89,401.33 L654.50,400.65 L654.14,399.97 L653.79,399.27 L653.46,398.55 L653.14,397.83 L652.81,397.13 L652.46,396.47 L652.10,395.85 L651.65,395.22 L651.19,394.65 L650.71,394.13 L650.22,393.63 L649.72,393.17 L649.20,392.73 L648.55,392.24 L647.88,391.77 L647.18,391.28 L646.49,390.84 L645.80,390.46 L645.13,390.13 L644.48,389.85 L643.82,389.63 L643.14,389.46 L642.40,389.36 L641.74,389.33 L641.05,389.35 L640.34,389.42 L639.60,389.51 L638.86,389.63 L638.10,389.76 L637.44,389.88 L636.77,390.01 L636.08,390.16 L635.38,390.32 L634.69,390.51 L633.99,390.72 L633.30,390.96 L632.62,391.23 L631.93,391.51 L631.25,391.83 L630.56,392.16 L629.88,392.53 L629.19,392.93 L628.50,393.36 L627.89,393.79 L627.27,394.27 L626.65,394.79 L626.02,395.32 L625.41,395.86 L624.79,396.37 L624.19,396.84 L623.60,397.26 L622.93,397.67 L622.25,398.03 L621.58,398.35 L620.93,398.65 L620.30,398.92 L619.72,399.21 L619.20,399.51 L618.47,399.98 L617.92,400.40 L617.38,400.80 L616.70,401.26 L616.14,401.61 L615.54,401.97 L614.89,402.33 L614.22,402.69 L613.52,403.01 L612.80,403.30 L612.16,403.51 L611.49,403.69 L610.81,403.86 L610.10,404.01 L609.40,404.15 L608.69,404.28 L608.00,404.40 L607.20,404.53 L606.40,404.63 L605.60,404.73 L604.80,404.81 L604.00,404.90 L603.20,405.00 L602.40,405.11 L601.60,405.22 L600.81,405.33 L600.01,405.45 L599.21,405.57 L598.40,405.70 L597.70,405.82 L597.00,405.94 L596.30,406.07 L595.60,406.20 L594.90,406.33 L594.20,406.46 L593.50,406.60 L592.81,406.74 L592.12,406.88 L591.44,407.02 L590.75,407.17 L590.07,407.31 L589.38,407.46 L588.70,407.60 L588.01,407.74 L587.33,407.88 L586.64,408.02 L585.96,408.16 L585.27,408.30 L584.59,408.45 L583.90,408.60 L583.21,408.76 L582.53,408.92 L581.84,409.09 L581.16,409.26 L580.47,409.44 L579.79,409.62 L579.10,409.80 L578.40,410.00 L577.67,410.17 L576.94,410.29 L576.22,410.39 L575.53,410.49 L574.89,410.56 L574.30,410.59 L573.43,410.67 L572.70,410.70 L572.05,410.65 L571.40,410.55 L570.56,410.15 L569.78,409.65 L569.00,409.55 L568.51,409.87 L568.02,410.40 L567.53,411.05 L567.05,411.70 L566.60,412.25 L565.90,413.10 L565.24,413.86 L564.60,414.15 L564.12,413.85 L563.64,413.22 L563.17,412.45 L562.70,411.75 L562.24,411.05 L561.78,410.29 L561.31,409.66 L560.80,409.35 L560.18,409.53 L559.48,410.05 L558.84,410.65 L558.40,411.05Z" fill="#87cefa" stroke="none"/>
<path d="M108.40,134.80C109.22,134.44 111.85,133.41 113.30,132.61C114.75,131.81 115.85,131.00 117.10,129.99C118.35,128.97 119.55,127.83 120.80,126.53C122.05,125.23 123.35,123.76 124.60,122.19C125.85,120.61 127.07,118.88 128.30,117.07C129.53,115.26 130.75,113.31 132.00,111.31C133.25,109.31 134.57,107.23 135.80,105.06C137.03,102.88 138.03,100.60 139.40,98.28C140.77,95.97 142.45,93.50 144.00,91.17C145.55,88.84 147.13,86.48 148.70,84.30C150.27,82.12 151.85,80.05 153.40,78.07C154.95,76.09 156.60,74.25 158.00,72.42C159.40,70.59 160.63,68.49 161.80,67.10C162.97,65.71 163.92,64.92 165.00,64.10C166.08,63.28 166.97,62.77 168.30,62.20C169.63,61.63 171.43,61.05 173.00,60.70C174.57,60.35 176.38,60.15 177.70,60.10C179.02,60.05 179.97,60.17 180.90,60.40C181.83,60.63 182.60,60.85 183.30,61.50C184.00,62.15 184.33,62.75 185.10,64.30C185.87,65.85 186.97,68.42 187.90,70.80C188.83,73.18 189.63,75.95 190.70,78.58C191.77,81.21 193.23,83.91 194.30,86.59C195.37,89.26 196.17,92.00 197.10,94.64C198.03,97.28 198.97,99.92 199.90,102.42C200.83,104.93 201.63,107.42 202.70,109.67C203.77,111.92 205.17,114.05 206.30,115.94C207.43,117.84 208.25,119.48 209.50,121.05C210.75,122.63 212.25,123.98 213.80,125.39C215.35,126.81 217.27,128.16 218.80,129.56C220.33,130.96 221.92,132.94 223.00,133.80C224.08,134.66 224.92,134.55 225.30,134.70" fill="none" stroke="#1f2429" stroke-width="1.2" stroke-linejoin="round"/>
<path d="M258.30,134.70C258.83,134.65 260.50,134.43 261.50,134.40C262.50,134.37 263.20,134.38 264.30,134.50C265.40,134.62 266.85,135.07 268.10,135.10C269.35,135.13 270.55,134.93 271.80,134.70C273.05,134.47 274.35,134.39 275.60,133.70C276.85,133.01 277.75,131.66 279.30,130.59C280.85,129.52 283.03,128.41 284.90,127.27C286.77,126.13 288.63,124.96 290.50,123.74C292.37,122.53 294.23,121.28 296.10,119.97C297.97,118.67 299.83,117.27 301.70,115.93C303.57,114.59 305.58,113.19 307.30,111.93C309.02,110.68 310.75,109.52 312.00,108.41C313.25,107.29 313.53,106.30 314.80,105.24C316.07,104.19 318.18,103.10 319.60,102.06C321.02,101.02 321.90,99.92 323.30,98.99C324.70,98.07 326.72,97.23 328.00,96.49C329.28,95.76 330.08,94.97 331.00,94.60C331.92,94.23 332.67,94.20 333.50,94.30C334.33,94.40 335.17,94.57 336.00,95.20C336.83,95.83 337.57,96.87 338.50,98.10C339.43,99.33 340.70,101.22 341.60,102.60C342.50,103.98 342.90,104.77 343.90,106.40C344.90,108.03 346.35,110.53 347.60,112.40C348.85,114.27 350.15,116.27 351.40,117.60C352.65,118.93 353.70,119.55 355.10,120.40C356.50,121.25 358.23,121.88 359.80,122.70C361.37,123.52 362.95,124.13 364.50,125.30C366.05,126.47 367.70,128.38 369.10,129.70C370.50,131.02 371.87,132.35 372.90,133.20C373.93,134.05 374.90,134.53 375.30,134.80" fill="none" stroke="#1f2429" stroke-width="1.2" stroke-linejoin="round"/>
<path d="M408.20,134.40C408.90,133.79 410.82,131.88 412.40,130.77C413.98,129.65 415.95,128.61 417.70,127.71C419.45,126.82 421.33,126.08 422.90,125.39C424.47,124.71 425.68,124.22 427.10,123.59C428.52,122.97 430.17,122.46 431.40,121.65C432.63,120.84 433.28,119.91 434.50,118.72C435.72,117.54 437.28,116.07 438.70,114.55C440.12,113.03 441.58,111.26 443.00,109.60C444.42,107.94 445.80,106.17 447.20,104.59C448.60,103.01 450.00,101.44 451.40,100.11C452.80,98.79 454.20,97.60 455.60,96.65C457.00,95.70 458.35,95.02 459.80,94.43C461.25,93.83 462.80,93.40 464.30,93.10C465.80,92.80 467.28,92.55 468.80,92.60C470.32,92.65 471.87,92.64 473.40,93.40C474.93,94.16 476.48,95.79 478.00,97.13C479.52,98.48 480.80,99.90 482.50,101.47C484.20,103.05 486.30,104.82 488.20,106.61C490.10,108.39 492.00,110.31 493.90,112.20C495.80,114.09 497.70,116.01 499.60,117.93C501.50,119.85 503.60,121.80 505.30,123.73C507.00,125.65 508.38,127.58 509.80,129.46C511.22,131.34 512.57,133.69 513.80,135.00C515.03,136.31 516.05,137.02 517.20,137.30C518.35,137.58 519.47,137.13 520.70,136.70C521.93,136.27 523.95,135.03 524.60,134.70" fill="none" stroke="#1f2429" stroke-width="1.2" stroke-linejoin="round"/>
<path d="M558.30,135.00C559.00,134.90 561.18,134.32 562.50,134.40C563.82,134.48 564.95,135.08 566.20,135.50C567.45,135.92 568.75,136.62 570.00,136.90C571.25,137.18 572.30,137.30 573.70,137.20C575.10,137.10 576.85,136.79 578.40,136.30C579.95,135.81 581.45,134.95 583.00,134.24C584.55,133.54 586.13,132.79 587.70,132.06C589.27,131.32 590.83,130.54 592.40,129.82C593.97,129.09 595.55,128.37 597.10,127.71C598.65,127.05 600.15,126.42 601.70,125.85C603.25,125.28 604.83,124.76 606.40,124.27C607.97,123.78 609.55,123.36 611.10,122.93C612.65,122.50 614.30,122.13 615.70,121.70C617.10,121.27 618.13,120.85 619.50,120.33C620.87,119.82 622.33,119.22 623.90,118.61C625.47,118.01 627.23,117.29 628.90,116.69C630.57,116.10 632.25,115.50 633.90,115.06C635.55,114.61 637.15,114.28 638.80,114.01C640.45,113.73 642.30,113.42 643.80,113.40C645.30,113.38 646.57,113.57 647.80,113.90C649.03,114.23 650.05,114.65 651.20,115.40C652.35,116.15 653.62,117.25 654.70,118.40C655.78,119.55 656.70,120.90 657.70,122.30C658.70,123.70 659.70,125.38 660.70,126.80C661.70,128.22 662.55,129.60 663.70,130.80C664.85,132.00 666.28,133.33 667.60,134.00C668.92,134.67 670.33,134.67 671.60,134.80C672.87,134.93 674.60,134.80 675.20,134.80" fill="none" stroke="#1f2429" stroke-width="1.2" stroke-linejoin="round"/>
<path d="M108.70,271.60C109.10,271.33 110.32,270.55 111.10,270.00C111.88,269.45 112.47,268.58 113.40,268.30C114.33,268.02 115.77,268.53 116.70,268.30C117.63,268.07 117.98,267.71 119.00,266.90C120.02,266.09 121.40,264.63 122.80,263.42C124.20,262.21 126.00,260.98 127.40,259.63C128.80,258.28 129.95,256.84 131.20,255.30C132.45,253.76 133.67,252.07 134.90,250.38C136.13,248.69 137.35,246.87 138.60,245.18C139.85,243.49 141.15,241.77 142.40,240.26C143.65,238.74 144.70,237.32 146.10,236.08C147.50,234.83 149.40,233.78 150.80,232.81C152.20,231.84 153.42,231.06 154.50,230.26C155.58,229.46 156.20,228.77 157.30,228.01C158.40,227.25 159.85,226.49 161.10,225.71C162.35,224.92 163.55,224.16 164.80,223.29C166.05,222.43 167.35,221.61 168.60,220.54C169.85,219.47 171.07,218.25 172.30,216.86C173.53,215.47 174.75,214.14 176.00,212.20C177.25,210.26 178.70,206.98 179.80,205.20C180.90,203.42 181.75,202.28 182.60,201.50C183.45,200.72 184.12,200.47 184.90,200.50C185.68,200.53 186.52,200.92 187.30,201.70C188.08,202.48 188.83,203.60 189.60,205.20C190.37,206.80 191.05,208.73 191.90,211.30C192.75,213.87 193.88,217.73 194.70,220.60C195.52,223.47 196.05,225.68 196.80,228.50C197.55,231.32 198.40,234.60 199.20,237.50C200.00,240.40 200.65,243.48 201.60,245.90C202.55,248.32 203.73,250.37 204.90,252.00C206.07,253.63 207.37,254.93 208.60,255.70C209.83,256.47 211.07,256.22 212.30,256.60C213.53,256.98 214.92,257.30 216.00,258.00C217.08,258.70 217.87,259.55 218.80,260.80C219.73,262.05 220.52,263.80 221.60,265.50C222.68,267.20 224.68,270.08 225.30,271.00" fill="none" stroke="#1f2429" stroke-width="1.2" stroke-linejoin="round"/>
<path d="M258.30,271.70C258.68,271.43 259.75,270.52 260.60,270.10C261.45,269.68 262.47,269.17 263.40,269.20C264.33,269.23 265.27,269.88 266.20,270.30C267.13,270.72 267.90,271.52 269.00,271.70C270.10,271.88 271.70,271.63 272.80,271.40C273.90,271.17 274.52,271.09 275.60,270.30C276.68,269.51 278.07,267.81 279.30,266.66C280.53,265.51 281.75,264.38 283.00,263.40C284.25,262.42 285.23,261.61 286.80,260.79C288.37,259.98 290.53,259.33 292.40,258.52C294.27,257.72 296.13,256.91 298.00,255.95C299.87,254.99 301.73,253.91 303.60,252.74C305.47,251.58 307.43,250.27 309.20,248.94C310.97,247.62 312.68,246.21 314.20,244.81C315.72,243.42 316.98,242.06 318.30,240.56C319.62,239.07 320.83,237.58 322.10,235.83C323.37,234.08 324.63,232.14 325.90,230.08C327.17,228.03 328.53,225.30 329.70,223.50C330.87,221.70 332.05,220.08 332.90,219.30C333.75,218.52 334.07,218.63 334.80,218.80C335.53,218.97 336.35,219.20 337.30,220.30C338.25,221.40 339.43,223.28 340.50,225.40C341.57,227.52 342.65,230.15 343.70,233.00C344.75,235.85 345.85,239.75 346.80,242.50C347.75,245.25 348.45,247.67 349.40,249.50C350.35,251.33 351.35,252.62 352.50,253.50C353.65,254.38 354.92,254.67 356.30,254.80C357.68,254.93 359.53,254.30 360.80,254.30C362.07,254.30 362.95,254.23 363.90,254.80C364.85,255.37 365.43,256.17 366.50,257.70C367.57,259.23 369.03,261.78 370.30,264.00C371.57,266.22 373.27,269.62 374.10,271.00C374.93,272.38 375.10,272.08 375.30,272.30" fill="none" stroke="#1f2429" stroke-width="1.2" stroke-linejoin="round"/>
<path d="M408.40,270.40C408.78,269.63 409.93,267.23 410.70,265.80C411.47,264.37 412.05,262.65 413.00,261.80C413.95,260.95 415.08,261.13 416.40,260.70C417.72,260.27 419.57,259.30 420.90,259.20C422.23,259.10 423.25,259.57 424.40,260.10C425.55,260.63 426.48,261.78 427.80,262.40C429.12,263.02 430.97,263.90 432.30,263.80C433.63,263.70 434.65,262.98 435.80,261.80C436.95,260.62 438.07,258.58 439.20,256.70C440.33,254.82 441.47,252.58 442.60,250.50C443.73,248.42 444.87,246.30 446.00,244.20C447.13,242.10 448.27,239.90 449.40,237.90C450.53,235.90 451.65,233.80 452.80,232.20C453.95,230.60 455.15,229.53 456.30,228.30C457.45,227.07 458.57,225.78 459.70,224.80C460.83,223.82 461.65,222.97 463.10,222.40C464.55,221.83 466.77,221.37 468.40,221.40C470.03,221.43 471.27,221.63 472.90,222.60C474.53,223.57 476.30,225.17 478.20,227.20C480.10,229.23 482.27,232.27 484.30,234.80C486.33,237.33 488.38,240.00 490.40,242.40C492.42,244.80 494.38,247.05 496.40,249.20C498.42,251.35 500.85,253.53 502.50,255.30C504.15,257.07 505.03,257.90 506.30,259.80C507.57,261.70 508.83,264.28 510.10,266.70C511.37,269.12 512.68,272.15 513.90,274.30C515.12,276.45 516.38,278.85 517.40,279.60C518.42,280.35 519.18,279.43 520.00,278.80C520.82,278.17 521.47,276.93 522.30,275.80C523.13,274.67 524.55,272.63 525.00,272.00" fill="none" stroke="#1f2429" stroke-width="1.2" stroke-linejoin="round"/>
<path d="M558.30,271.40C558.68,271.12 559.75,270.05 560.60,269.70C561.45,269.35 562.47,269.10 563.40,269.30C564.33,269.50 565.27,270.17 566.20,270.90C567.13,271.63 568.07,273.07 569.00,273.70C569.93,274.33 570.70,274.58 571.80,274.70C572.90,274.82 574.35,274.67 575.60,274.40C576.85,274.13 578.07,273.76 579.30,273.10C580.53,272.44 581.60,271.42 583.00,270.43C584.40,269.45 586.13,268.36 587.70,267.19C589.27,266.02 590.83,264.67 592.40,263.41C593.97,262.14 595.55,260.79 597.10,259.62C598.65,258.46 600.15,257.36 601.70,256.40C603.25,255.44 604.83,254.64 606.40,253.87C607.97,253.10 609.55,252.48 611.10,251.79C612.65,251.11 614.38,250.53 615.70,249.78C617.02,249.03 617.50,248.28 619.00,247.29C620.50,246.31 622.70,245.14 624.70,243.85C626.70,242.56 628.90,240.98 631.00,239.55C633.10,238.12 635.40,236.60 637.30,235.26C639.20,233.91 640.85,232.28 642.40,231.50C643.95,230.72 645.27,230.53 646.60,230.60C647.93,230.67 649.30,231.15 650.40,231.90C651.50,232.65 652.32,233.72 653.20,235.10C654.08,236.48 654.87,238.20 655.70,240.20C656.53,242.20 657.35,244.47 658.20,247.10C659.05,249.73 659.95,253.25 660.80,256.00C661.65,258.75 662.35,261.28 663.30,263.60C664.25,265.92 665.45,268.38 666.50,269.90C667.55,271.42 668.35,272.38 669.60,272.70C670.85,273.02 673.05,272.03 674.00,271.80C674.95,271.57 675.08,271.38 675.30,271.30" fill="none" stroke="#1f2429" stroke-width="1.2" stroke-linejoin="round"/>
<path d="M108.90,410.50C109.38,409.97 110.92,407.62 111.80,407.30C112.68,406.98 113.55,408.68 114.20,408.60C114.85,408.52 115.22,407.58 115.70,406.80C116.18,406.02 116.30,404.87 117.10,403.90C117.90,402.93 119.37,402.22 120.50,401.00C121.63,399.78 122.60,397.97 123.90,396.60C125.20,395.23 126.75,394.08 128.30,392.80C129.85,391.52 131.58,390.20 133.20,388.90C134.82,387.60 136.55,386.30 138.00,385.00C139.45,383.70 140.60,382.48 141.90,381.10C143.20,379.72 144.45,378.18 145.80,376.70C147.15,375.22 148.65,373.68 150.00,372.20C151.35,370.72 152.60,369.18 153.90,367.80C155.20,366.42 156.50,365.12 157.80,363.90C159.10,362.68 160.50,361.47 161.70,360.50C162.90,359.53 163.88,358.93 165.00,358.10C166.12,357.27 167.18,356.23 168.40,355.50C169.62,354.77 171.00,354.20 172.30,353.70C173.60,353.20 174.90,352.98 176.20,352.50C177.50,352.02 179.05,351.05 180.10,350.80C181.15,350.55 181.68,350.60 182.50,351.00C183.32,351.40 184.18,351.93 185.00,353.20C185.82,354.47 186.60,356.57 187.40,358.60C188.20,360.63 188.95,362.58 189.80,365.40C190.65,368.22 191.73,372.60 192.50,375.50C193.27,378.40 193.73,380.33 194.40,382.80C195.07,385.27 195.78,387.78 196.50,390.30C197.22,392.82 198.07,395.57 198.70,397.90C199.33,400.23 199.82,403.10 200.30,404.30C200.78,405.50 201.03,405.38 201.60,405.10C202.17,404.82 203.00,403.30 203.70,402.60C204.40,401.90 205.10,400.90 205.80,400.90C206.50,400.90 207.12,401.97 207.90,402.60C208.68,403.23 209.52,404.23 210.50,404.70C211.48,405.17 212.82,405.12 213.80,405.40C214.78,405.68 215.40,405.82 216.40,406.40C217.40,406.98 218.68,408.13 219.80,408.90C220.92,409.67 222.23,410.68 223.10,411.00C223.97,411.32 224.68,410.83 225.00,410.80" fill="none" stroke="#1f2429" stroke-width="1.2" stroke-linejoin="round"/>
<path d="M258.60,410.70C259.08,410.95 260.55,411.58 261.50,412.20C262.45,412.82 263.43,414.47 264.30,414.40C265.17,414.33 265.92,412.17 266.70,411.80C267.48,411.43 268.15,412.13 269.00,412.20C269.85,412.27 270.70,412.43 271.80,412.20C272.90,411.97 274.20,411.33 275.60,410.80C277.00,410.27 278.65,409.53 280.20,409.00C281.75,408.47 283.18,407.92 284.90,407.60C286.62,407.28 288.63,407.37 290.50,407.10C292.37,406.83 294.23,406.43 296.10,406.00C297.97,405.57 299.83,405.10 301.70,404.50C303.57,403.90 305.58,403.13 307.30,402.40C309.02,401.67 310.75,400.75 312.00,400.10C313.25,399.45 313.68,399.28 314.80,398.50C315.92,397.72 317.40,396.48 318.70,395.40C320.00,394.32 321.30,393.08 322.60,392.00C323.90,390.92 325.22,389.65 326.50,388.90C327.78,388.15 329.18,387.57 330.30,387.50C331.42,387.43 332.23,387.75 333.20,388.50C334.17,389.25 335.13,390.53 336.10,392.00C337.07,393.47 338.12,395.68 339.00,397.30C339.88,398.92 340.43,400.65 341.40,401.70C342.37,402.75 343.77,403.48 344.80,403.60C345.83,403.72 346.65,402.80 347.60,402.40C348.55,402.00 349.62,400.92 350.50,401.20C351.38,401.48 352.02,402.98 352.90,404.10C353.78,405.22 354.58,407.10 355.80,407.90C357.02,408.70 358.83,408.53 360.20,408.90C361.57,409.27 362.72,409.62 364.00,410.10C365.28,410.58 366.85,411.43 367.90,411.80C368.95,412.17 369.50,412.50 370.30,412.30C371.10,412.10 371.90,410.77 372.70,410.60C373.50,410.43 374.70,411.18 375.10,411.30" fill="none" stroke="#1f2429" stroke-width="1.2" stroke-linejoin="round"/>
<path d="M408.40,408.70C408.57,407.97 409.00,405.75 409.40,404.30C409.80,402.85 410.23,401.23 410.80,400.00C411.37,398.77 412.15,397.42 412.80,396.90C413.45,396.38 414.05,397.28 414.70,396.90C415.35,396.52 416.13,395.78 416.70,394.60C417.27,393.42 417.62,391.42 418.10,389.80C418.58,388.18 419.12,386.21 419.60,384.90C420.08,383.59 420.37,382.96 421.00,381.94C421.63,380.91 422.58,379.86 423.40,378.76C424.22,377.65 424.92,376.46 425.90,375.31C426.88,374.16 428.25,372.97 429.30,371.84C430.35,370.71 431.32,369.66 432.20,368.53C433.08,367.40 433.68,366.30 434.60,365.06C435.52,363.81 436.67,362.47 437.70,361.07C438.73,359.66 439.78,358.21 440.80,356.63C441.82,355.05 442.45,353.39 443.80,351.58C445.15,349.77 447.20,347.72 448.90,345.77C450.60,343.83 452.28,341.75 454.00,339.91C455.72,338.07 457.48,336.36 459.20,334.74C460.92,333.12 462.77,331.09 464.30,330.20C465.83,329.31 467.12,329.47 468.40,329.40C469.68,329.33 470.48,329.50 472.00,329.80C473.52,330.10 475.58,330.31 477.50,331.20C479.42,332.09 481.65,333.70 483.50,335.14C485.35,336.58 487.12,338.15 488.60,339.84C490.08,341.52 491.13,343.40 492.40,345.26C493.67,347.13 495.07,349.08 496.20,351.02C497.33,352.97 498.28,354.94 499.20,356.95C500.12,358.96 500.85,360.98 501.70,363.09C502.55,365.19 503.52,367.32 504.30,369.57C505.08,371.82 505.70,374.13 506.40,376.58C507.10,379.03 507.80,381.62 508.50,384.28C509.20,386.94 509.88,389.74 510.60,392.53C511.32,395.32 512.02,398.46 512.80,401.00C513.58,403.54 514.53,406.25 515.30,407.80C516.07,409.35 516.77,409.92 517.40,410.30C518.03,410.68 518.53,410.32 519.10,410.10C519.67,409.88 520.23,408.97 520.80,409.00C521.37,409.03 522.00,410.02 522.50,410.30C523.00,410.58 523.38,410.77 523.80,410.70C524.22,410.63 524.80,410.03 525.00,409.90" fill="none" stroke="#1f2429" stroke-width="1.2" stroke-linejoin="round"/>
<path d="M558.40,410.60C558.80,410.32 560.08,408.78 560.80,408.90C561.52,409.02 562.07,410.50 562.70,411.30C563.33,412.10 563.95,413.62 564.60,413.70C565.25,413.78 565.87,412.57 566.60,411.80C567.33,411.03 568.20,409.38 569.00,409.10C569.80,408.82 570.52,409.93 571.40,410.10C572.28,410.27 573.02,410.33 574.30,410.10C575.58,409.87 577.50,409.13 579.10,408.70C580.70,408.27 582.30,407.87 583.90,407.50C585.50,407.13 587.10,406.83 588.70,406.50C590.30,406.17 591.88,405.82 593.50,405.50C595.12,405.18 596.78,404.87 598.40,404.60C600.02,404.33 601.60,404.12 603.20,403.90C604.80,403.68 606.40,403.58 608.00,403.30C609.60,403.02 611.35,402.72 612.80,402.20C614.25,401.68 615.63,400.80 616.70,400.20C617.77,399.60 618.05,399.23 619.20,398.60C620.35,397.97 622.05,397.42 623.60,396.40C625.15,395.38 626.88,393.55 628.50,392.50C630.12,391.45 631.70,390.70 633.30,390.10C634.90,389.50 636.58,389.17 638.10,388.90C639.62,388.63 641.12,388.38 642.40,388.50C643.68,388.62 644.67,389.02 645.80,389.60C646.93,390.18 648.15,391.03 649.20,392.00C650.25,392.97 651.22,394.03 652.10,395.40C652.98,396.77 653.62,398.67 654.50,400.20C655.38,401.73 656.45,403.67 657.40,404.60C658.35,405.53 659.25,406.05 660.20,405.80C661.15,405.55 662.28,404.35 663.10,403.10C663.92,401.85 664.53,399.42 665.10,398.30C665.67,397.18 666.02,395.92 666.50,396.40C666.98,396.88 667.43,399.43 668.00,401.20C668.57,402.97 669.27,405.23 669.90,407.00C670.53,408.77 671.25,410.60 671.80,411.80C672.35,413.00 672.72,414.45 673.20,414.20C673.68,413.95 674.45,410.95 674.70,410.30" fill="none" stroke="#1f2429" stroke-width="1.2" stroke-linejoin="round"/>
<line x1="108.60" y1="64.00" x2="225.70" y2="64.00" stroke="#000" stroke-width="1.75"/>
<line x1="258.60" y1="106.00" x2="375.70" y2="106.00" stroke="#000" stroke-width="1.75"/>
<line x1="408.60" y1="93.00" x2="525.70" y2="93.00" stroke="#000" stroke-width="1.75"/>
<line x1="558.60" y1="120.10" x2="675.70" y2="120.10" stroke="#000" stroke-width="1.75"/>
<line x1="108.60" y1="223.00" x2="225.70" y2="223.00" stroke="#000" stroke-width="1.75"/>
<line x1="258.60" y1="244.00" x2="375.70" y2="244.00" stroke="#000" stroke-width="1.75"/>
<line x1="408.60" y1="222.00" x2="525.70" y2="222.00" stroke="#000" stroke-width="1.75"/>
<line x1="558.60" y1="246.90" x2="675.70" y2="246.90" stroke="#000" stroke-width="1.75"/>
<line x1="108.60" y1="358.00" x2="225.70" y2="358.00" stroke="#000" stroke-width="1.75"/>
<line x1="258.60" y1="398.50" x2="375.70" y2="398.50" stroke="#000" stroke-width="1.75"/>
<line x1="408.60" y1="330.20" x2="525.70" y2="330.20" stroke="#000" stroke-width="1.75"/>
<line x1="558.60" y1="397.00" x2="675.70" y2="397.00" stroke="#000" stroke-width="1.75"/>
<line x1="165.20" y1="55.40" x2="165.20" y2="138.70" stroke="#ff0000" stroke-width="1.7"/>
<line x1="315.00" y1="51.30" x2="315.00" y2="142.50" stroke="#ff0000" stroke-width="1.7"/>
<line x1="464.30" y1="46.50" x2="464.30" y2="147.40" stroke="#ff0000" stroke-width="1.7"/>
<line x1="619.40" y1="41.60" x2="619.40" y2="152.60" stroke="#ff0000" stroke-width="1.7"/>
<line x1="165.20" y1="193.70" x2="165.20" y2="275.50" stroke="#ff0000" stroke-width="1.7"/>
<line x1="314.90" y1="189.10" x2="314.90" y2="279.30" stroke="#ff0000" stroke-width="1.7"/>
<line x1="463.50" y1="185.30" x2="463.50" y2="285.50" stroke="#ff0000" stroke-width="1.7"/>
<line x1="619.40" y1="179.80" x2="619.40" y2="290.70" stroke="#ff0000" stroke-width="1.7"/>
<line x1="165.20" y1="346.20" x2="165.20" y2="415.40" stroke="#ff0000" stroke-width="1.7"/>
<line x1="314.90" y1="343.20" x2="314.90" y2="419.20" stroke="#ff0000" stroke-width="1.7"/>
<line x1="464.30" y1="323.30" x2="464.30" y2="423.50" stroke="#ff0000" stroke-width="1.7"/>
<line x1="619.40" y1="318.00" x2="619.40" y2="428.70" stroke="#ff0000" stroke-width="1.7"/>
<text x="109.00" y="61.80" font-size="15.6" fill="#262626">3 .2</text><path fill="#262626" stroke="#262626" stroke-width="0.3" vector-effect="non-scaling-stroke" transform="translate(117.68 61.80) scale(0.00762 -0.00762)" d="M763 0H583V1147Q518 1085 412.5 1023T223 930V1104Q375 1175 489 1276T650 1472H763V0Z"/>
<text x="259.00" y="103.10" font-size="15.6" fill="#262626"> 2.7</text><path fill="#262626" stroke="#262626" stroke-width="0.3" vector-effect="non-scaling-stroke" transform="translate(259.00 103.10) scale(0.00762 -0.00762)" d="M763 0H583V1147Q518 1085 412.5 1023T223 930V1104Q375 1175 489 1276T650 1472H763V0Z"/>
<text x="409.00" y="89.80" font-size="15.6" fill="#262626"> 8.4</text><path fill="#262626" stroke="#262626" stroke-width="0.3" vector-effect="non-scaling-stroke" transform="translate(409.00 89.80) scale(0.00762 -0.00762)" d="M763 0H583V1147Q518 1085 412.5 1023T223 930V1104Q375 1175 489 1276T650 1472H763V0Z"/>
<text x="559.00" y="116.90" font-size="15.6" fill="#262626">6.4</text>
<text x="109.00" y="220.80" font-size="15.6" fill="#262626">8.3</text>
<text x="259.00" y="240.90" font-size="15.6" fill="#262626">4.7</text>
<text x="409.00" y="219.10" font-size="15.6" fill="#262626">8.5</text>
<text x="559.00" y="242.90" font-size="15.6" fill="#262626">4.3</text>
<text x="109.00" y="355.90" font-size="15.6" fill="#262626"> 8.3</text><path fill="#262626" stroke="#262626" stroke-width="0.3" vector-effect="non-scaling-stroke" transform="translate(109.00 355.90) scale(0.00762 -0.00762)" d="M763 0H583V1147Q518 1085 412.5 1023T223 930V1104Q375 1175 489 1276T650 1472H763V0Z"/>
<text x="259.00" y="395.90" font-size="15.6" fill="#262626">4.2</text>
<text x="409.00" y="326.90" font-size="15.6" fill="#262626">27.9</text>
<text x="559.00" y="393.60" font-size="15.6" fill="#262626">4.7</text>
<text x="167.30" y="26.8" font-size="14.9" text-anchor="middle" fill="#262626">Baseline</text>
<text x="317.30" y="26.8" font-size="14.9" text-anchor="middle" fill="#262626">Ischemia</text>
<text x="467.30" y="26.8" font-size="14.9" text-anchor="middle" fill="#262626">Dobutamine</text>
<text x="617.30" y="11.0" font-size="14.9" text-anchor="middle" fill="#262626">Dobutamine +&#160;</text>
<text x="617.30" y="26.8" font-size="14.9" text-anchor="middle" fill="#262626">ischemia</text>
<text x="34.70" y="79.00" font-size="13.75" text-anchor="middle" fill="#262626">STAc disp.</text>
<text x="33.70" y="94.00" font-size="13.75" text-anchor="middle" fill="#262626">[mm]</text>
<text x="33.70" y="218.00" font-size="13.75" text-anchor="middle" fill="#262626">DYNc disp.</text>
<text x="33.70" y="233.00" font-size="13.75" text-anchor="middle" fill="#262626">[mm]</text>
<text x="33.10" y="355.40" font-size="13.75" text-anchor="middle" fill="#262626">Rotation</text>
<text x="33.40" y="370.40" font-size="13.75" text-anchor="middle" fill="#262626">[deg]</text>
<text x="94.00" y="49.00" font-size="12.22" text-anchor="end" fill="#262626">40</text>
<text x="94.00" y="94.20" font-size="12.22" text-anchor="end" fill="#262626">20</text>
<text x="94.00" y="139.30" font-size="12.22" text-anchor="end" fill="#262626">0</text>
<text x="80.41" y="218.50" font-size="12.22" fill="#262626"> 0</text><path fill="#262626" stroke="#262626" stroke-width="0.3" vector-effect="non-scaling-stroke" transform="translate(80.41 218.50) scale(0.00597 -0.00597)" d="M763 0H583V1147Q518 1085 412.5 1023T223 930V1104Q375 1175 489 1276T650 1472H763V0Z"/>
<text x="94.00" y="276.80" font-size="12.22" text-anchor="end" fill="#262626">0</text>
<text x="94.00" y="357.30" font-size="12.22" text-anchor="end" fill="#262626">20</text>
<text x="94.00" y="415.50" font-size="12.22" text-anchor="end" fill="#262626">0</text>
<text x="108.50" y="452.9" font-size="12.22" text-anchor="middle" fill="#262626">0</text>
<text x="167.00" y="452.9" font-size="12.22" text-anchor="middle" fill="#262626">200</text>
<text x="225.50" y="452.9" font-size="12.22" text-anchor="middle" fill="#262626">400</text>
<text x="167.00" y="470.7" font-size="13.75" text-anchor="middle" fill="#262626">Sample</text>
<text x="258.50" y="452.9" font-size="12.22" text-anchor="middle" fill="#262626">0</text>
<text x="317.00" y="452.9" font-size="12.22" text-anchor="middle" fill="#262626">200</text>
<text x="375.50" y="452.9" font-size="12.22" text-anchor="middle" fill="#262626">400</text>
<text x="317.00" y="470.7" font-size="13.75" text-anchor="middle" fill="#262626">Sample</text>
<text x="408.50" y="452.9" font-size="12.22" text-anchor="middle" fill="#262626">0</text>
<text x="467.00" y="452.9" font-size="12.22" text-anchor="middle" fill="#262626">200</text>
<text x="525.50" y="452.9" font-size="12.22" text-anchor="middle" fill="#262626">400</text>
<text x="467.00" y="470.7" font-size="13.75" text-anchor="middle" fill="#262626">Sample</text>
<text x="558.50" y="452.9" font-size="12.22" text-anchor="middle" fill="#262626">0</text>
<text x="617.00" y="452.9" font-size="12.22" text-anchor="middle" fill="#262626">200</text>
<text x="675.50" y="452.9" font-size="12.22" text-anchor="middle" fill="#262626">400</text>
<text x="617.00" y="470.7" font-size="13.75" text-anchor="middle" fill="#262626">Sample</text>
</svg>
</body></html>
